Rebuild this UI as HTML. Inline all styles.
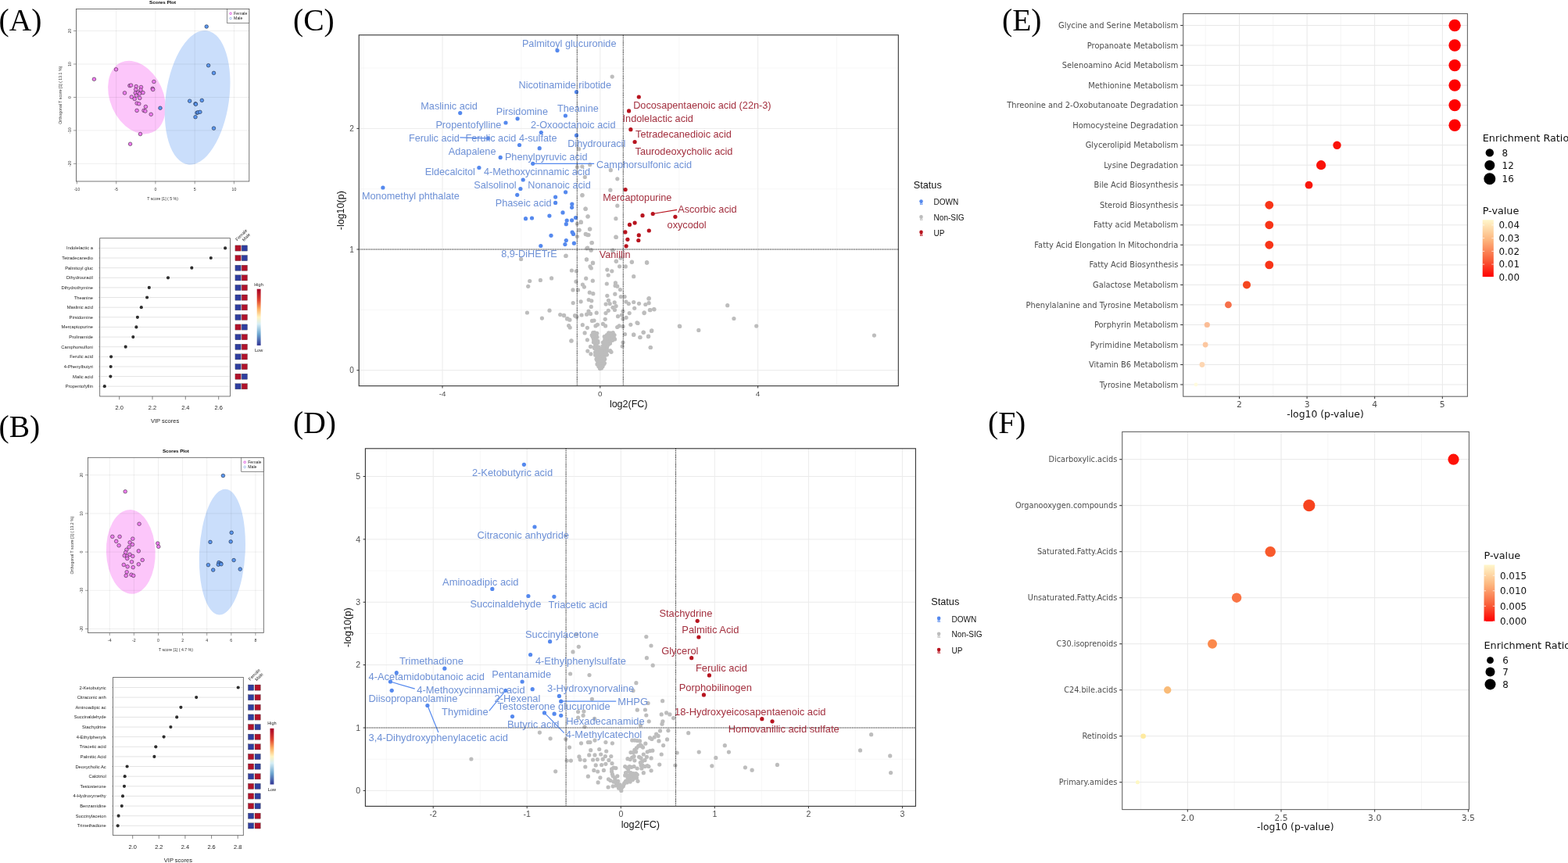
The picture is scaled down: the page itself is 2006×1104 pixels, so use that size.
<!DOCTYPE html>
<html><head><meta charset="utf-8"><title>Figure</title>
<style>
html,body{margin:0;padding:0;background:#fff;}
body{width:2006px;height:1104px;overflow:hidden;}
svg{display:block;}
</style></head><body>
<svg width="2006" height="1104" viewBox="0 0 2006 1104" font-family="'Liberation Sans', Arial, sans-serif">
<defs>
<linearGradient id="rdbu" x1="0" y1="0" x2="0" y2="1">
<stop offset="0" stop-color="#a50026"/><stop offset="0.2" stop-color="#e0452f"/><stop offset="0.35" stop-color="#fdae61"/>
<stop offset="0.5" stop-color="#fff4c0"/><stop offset="0.62" stop-color="#d6eef5"/><stop offset="0.8" stop-color="#6ea7d0"/>
<stop offset="1" stop-color="#313695"/></linearGradient>
<linearGradient id="ylred" x1="0" y1="0" x2="0" y2="1">
<stop offset="0" stop-color="#fff7cc"/><stop offset="0.35" stop-color="#fdb67e"/><stop offset="0.7" stop-color="#f9603a"/>
<stop offset="1" stop-color="#ff0000"/></linearGradient>
</defs>
<rect width="2006" height="1104" fill="#fff"/>
<text x="-1.5" y="39.3" font-size="39.5" font-family="'Liberation Serif', 'Times New Roman', serif">(A)</text>
<text x="-1.5" y="558.6" font-size="39.5" font-family="'Liberation Serif', 'Times New Roman', serif">(B)</text>
<text x="375" y="38.8" font-size="39.5" font-family="'Liberation Serif', 'Times New Roman', serif">(C)</text>
<text x="375" y="553.5" font-size="39.5" font-family="'Liberation Serif', 'Times New Roman', serif">(D)</text>
<text x="1282" y="39" font-size="39.5" font-family="'Liberation Serif', 'Times New Roman', serif">(E)</text>
<text x="1264" y="554" font-size="39.5" font-family="'Liberation Serif', 'Times New Roman', serif">(F)</text>
<text x="208.1" y="4.9" font-size="6.2" text-anchor="middle" font-weight="bold">Scores Plot</text>
<ellipse cx="175" cy="124.6" rx="34" ry="49" fill="#fcc6fa" transform="rotate(-24 175 124.6)"/>
<ellipse cx="252.6" cy="124.8" rx="40.5" ry="86.5" fill="#cadefb" transform="rotate(8 252.6 124.8)"/>
<line x1="98.4" y1="11.4" x2="98.4" y2="232" stroke="rgba(0,0,0,0.09)" stroke-width="0.7"/>
<line x1="148.7" y1="11.4" x2="148.7" y2="232" stroke="rgba(0,0,0,0.09)" stroke-width="0.7"/>
<line x1="198.9" y1="11.4" x2="198.9" y2="232" stroke="rgba(0,0,0,0.09)" stroke-width="0.7"/>
<line x1="249.2" y1="11.4" x2="249.2" y2="232" stroke="rgba(0,0,0,0.09)" stroke-width="0.7"/>
<line x1="299.4" y1="11.4" x2="299.4" y2="232" stroke="rgba(0,0,0,0.09)" stroke-width="0.7"/>
<line x1="97.4" y1="39.5" x2="318.8" y2="39.5" stroke="rgba(0,0,0,0.09)" stroke-width="0.7"/>
<line x1="97.4" y1="82" x2="318.8" y2="82" stroke="rgba(0,0,0,0.09)" stroke-width="0.7"/>
<line x1="97.4" y1="124.5" x2="318.8" y2="124.5" stroke="rgba(0,0,0,0.09)" stroke-width="0.7"/>
<line x1="97.4" y1="166.9" x2="318.8" y2="166.9" stroke="rgba(0,0,0,0.09)" stroke-width="0.7"/>
<line x1="97.4" y1="209.4" x2="318.8" y2="209.4" stroke="rgba(0,0,0,0.09)" stroke-width="0.7"/>
<circle cx="120.4" cy="101.3" r="2.3" fill="#ef7cf0" stroke="#3a2a3a" stroke-width="0.6"/>
<circle cx="148.5" cy="88.8" r="2.3" fill="#ef7cf0" stroke="#3a2a3a" stroke-width="0.6"/>
<circle cx="159.5" cy="118.9" r="2.3" fill="#ef7cf0" stroke="#3a2a3a" stroke-width="0.6"/>
<circle cx="165.9" cy="109.6" r="2.3" fill="#ef7cf0" stroke="#3a2a3a" stroke-width="0.6"/>
<circle cx="167.6" cy="109.1" r="2.3" fill="#ef7cf0" stroke="#3a2a3a" stroke-width="0.6"/>
<circle cx="174.2" cy="110.6" r="2.3" fill="#ef7cf0" stroke="#3a2a3a" stroke-width="0.6"/>
<circle cx="173.7" cy="114.5" r="2.3" fill="#ef7cf0" stroke="#3a2a3a" stroke-width="0.6"/>
<circle cx="180.5" cy="111.5" r="2.3" fill="#ef7cf0" stroke="#3a2a3a" stroke-width="0.6"/>
<circle cx="180" cy="115" r="2.3" fill="#ef7cf0" stroke="#3a2a3a" stroke-width="0.6"/>
<circle cx="173.2" cy="118.9" r="2.3" fill="#ef7cf0" stroke="#3a2a3a" stroke-width="0.6"/>
<circle cx="176.6" cy="118.4" r="2.3" fill="#ef7cf0" stroke="#3a2a3a" stroke-width="0.6"/>
<circle cx="178.6" cy="119.9" r="2.3" fill="#ef7cf0" stroke="#3a2a3a" stroke-width="0.6"/>
<circle cx="183" cy="118.6" r="2.3" fill="#ef7cf0" stroke="#3a2a3a" stroke-width="0.6"/>
<circle cx="168.3" cy="124" r="2.3" fill="#ef7cf0" stroke="#3a2a3a" stroke-width="0.6"/>
<circle cx="172.2" cy="126.5" r="2.3" fill="#ef7cf0" stroke="#3a2a3a" stroke-width="0.6"/>
<circle cx="174.4" cy="122.3" r="2.3" fill="#ef7cf0" stroke="#3a2a3a" stroke-width="0.6"/>
<circle cx="178.8" cy="125.5" r="2.3" fill="#ef7cf0" stroke="#3a2a3a" stroke-width="0.6"/>
<circle cx="175.1" cy="132.1" r="2.3" fill="#ef7cf0" stroke="#3a2a3a" stroke-width="0.6"/>
<circle cx="177.8" cy="132.8" r="2.3" fill="#ef7cf0" stroke="#3a2a3a" stroke-width="0.6"/>
<circle cx="186.4" cy="136.5" r="2.3" fill="#ef7cf0" stroke="#3a2a3a" stroke-width="0.6"/>
<circle cx="175.1" cy="141.4" r="2.3" fill="#ef7cf0" stroke="#3a2a3a" stroke-width="0.6"/>
<circle cx="184" cy="141.4" r="2.3" fill="#ef7cf0" stroke="#3a2a3a" stroke-width="0.6"/>
<circle cx="185.9" cy="142.1" r="2.3" fill="#ef7cf0" stroke="#3a2a3a" stroke-width="0.6"/>
<circle cx="193.2" cy="146.3" r="2.3" fill="#ef7cf0" stroke="#3a2a3a" stroke-width="0.6"/>
<circle cx="195.2" cy="113.3" r="2.3" fill="#ef7cf0" stroke="#3a2a3a" stroke-width="0.6"/>
<circle cx="195.7" cy="114.5" r="2.3" fill="#ef7cf0" stroke="#3a2a3a" stroke-width="0.6"/>
<circle cx="196.9" cy="104.5" r="2.3" fill="#ef7cf0" stroke="#3a2a3a" stroke-width="0.6"/>
<circle cx="179.5" cy="171.5" r="2.3" fill="#ef7cf0" stroke="#3a2a3a" stroke-width="0.6"/>
<circle cx="166.6" cy="184.2" r="2.3" fill="#ef7cf0" stroke="#3a2a3a" stroke-width="0.6"/>
<circle cx="264.2" cy="34" r="2.3" fill="#5b97f0" stroke="#1d2a40" stroke-width="0.6"/>
<circle cx="266.6" cy="83.7" r="2.3" fill="#5b97f0" stroke="#1d2a40" stroke-width="0.6"/>
<circle cx="273.5" cy="93.4" r="2.3" fill="#5b97f0" stroke="#1d2a40" stroke-width="0.6"/>
<circle cx="242.7" cy="129.2" r="2.3" fill="#5b97f0" stroke="#1d2a40" stroke-width="0.6"/>
<circle cx="250" cy="132.8" r="2.3" fill="#5b97f0" stroke="#1d2a40" stroke-width="0.6"/>
<circle cx="250.5" cy="133.3" r="2.3" fill="#5b97f0" stroke="#1d2a40" stroke-width="0.6"/>
<circle cx="258.3" cy="128.4" r="2.3" fill="#5b97f0" stroke="#1d2a40" stroke-width="0.6"/>
<circle cx="252" cy="144.3" r="2.3" fill="#5b97f0" stroke="#1d2a40" stroke-width="0.6"/>
<circle cx="253.2" cy="143.8" r="2.3" fill="#5b97f0" stroke="#1d2a40" stroke-width="0.6"/>
<circle cx="255.9" cy="143.3" r="2.3" fill="#5b97f0" stroke="#1d2a40" stroke-width="0.6"/>
<circle cx="250" cy="149.7" r="2.3" fill="#5b97f0" stroke="#1d2a40" stroke-width="0.6"/>
<circle cx="273.5" cy="164.1" r="2.3" fill="#5b97f0" stroke="#1d2a40" stroke-width="0.6"/>
<circle cx="205" cy="138.2" r="2.3" fill="#5b97f0" stroke="#1d2a40" stroke-width="0.6"/>
<rect x="97.4" y="11.4" width="221.4" height="220.6" fill="none" stroke="#555" stroke-width="0.8"/>
<line x1="98.4" y1="232" x2="98.4" y2="235.4" stroke="#555" stroke-width="0.6"/>
<text x="98.4" y="243.5" font-size="5.2" text-anchor="middle" fill="#333">-10</text>
<line x1="148.7" y1="232" x2="148.7" y2="235.4" stroke="#555" stroke-width="0.6"/>
<text x="148.7" y="243.5" font-size="5.2" text-anchor="middle" fill="#333">-5</text>
<line x1="198.9" y1="232" x2="198.9" y2="235.4" stroke="#555" stroke-width="0.6"/>
<text x="198.9" y="243.5" font-size="5.2" text-anchor="middle" fill="#333">0</text>
<line x1="249.2" y1="232" x2="249.2" y2="235.4" stroke="#555" stroke-width="0.6"/>
<text x="249.2" y="243.5" font-size="5.2" text-anchor="middle" fill="#333">5</text>
<line x1="299.4" y1="232" x2="299.4" y2="235.4" stroke="#555" stroke-width="0.6"/>
<text x="299.4" y="243.5" font-size="5.2" text-anchor="middle" fill="#333">10</text>
<line x1="94" y1="39.5" x2="97.4" y2="39.5" stroke="#555" stroke-width="0.6"/>
<text x="90.9" y="39.5" font-size="5.2" text-anchor="middle" fill="#333" transform="rotate(-90 90.9 39.5)">20</text>
<line x1="94" y1="82" x2="97.4" y2="82" stroke="#555" stroke-width="0.6"/>
<text x="90.9" y="82" font-size="5.2" text-anchor="middle" fill="#333" transform="rotate(-90 90.9 82)">10</text>
<line x1="94" y1="124.5" x2="97.4" y2="124.5" stroke="#555" stroke-width="0.6"/>
<text x="90.9" y="124.5" font-size="5.2" text-anchor="middle" fill="#333" transform="rotate(-90 90.9 124.5)">0</text>
<line x1="94" y1="166.9" x2="97.4" y2="166.9" stroke="#555" stroke-width="0.6"/>
<text x="90.9" y="166.9" font-size="5.2" text-anchor="middle" fill="#333" transform="rotate(-90 90.9 166.9)">-10</text>
<line x1="94" y1="209.4" x2="97.4" y2="209.4" stroke="#555" stroke-width="0.6"/>
<text x="90.9" y="209.4" font-size="5.2" text-anchor="middle" fill="#333" transform="rotate(-90 90.9 209.4)">-20</text>
<text x="208.1" y="255.5" font-size="5.2" text-anchor="middle" fill="#333">T score [1] ( 5 %)</text>
<text x="78.9" y="121.7" font-size="5.2" text-anchor="middle" fill="#333" transform="rotate(-90 78.9 121.7)">Orthogonal T score [1] ( 13.1 %)</text>
<rect x="290.6" y="11.4" width="28.2" height="18" fill="#fff" stroke="#444" stroke-width="0.6"/>
<circle cx="295.1" cy="17.3" r="1.3" fill="none" stroke="#e060e0" stroke-width="0.6"/>
<circle cx="295.1" cy="17.3" r="1.3" fill="none" stroke="#e060e0" stroke-width="0.6"/>
<circle cx="295.1" cy="23.5" r="1.3" fill="none" stroke="#6f9be0" stroke-width="0.6"/>
<text x="299.1" y="19.2" font-size="5.2" fill="#222">Female</text>
<text x="299.1" y="25.4" font-size="5.2" fill="#222">Male</text>
<text x="224.9" y="578.8" font-size="6.2" text-anchor="middle" font-weight="bold">Scores Plot</text>
<ellipse cx="167.3" cy="705.9" rx="31.4" ry="53.8" fill="#fcc6fa" transform="rotate(-2 167.3 705.9)"/>
<ellipse cx="284.4" cy="706.1" rx="29.3" ry="80.5" fill="#cadefb" transform="rotate(3 284.4 706.1)"/>
<line x1="140.3" y1="585.3" x2="140.3" y2="809.6" stroke="rgba(0,0,0,0.09)" stroke-width="0.7"/>
<line x1="171.4" y1="585.3" x2="171.4" y2="809.6" stroke="rgba(0,0,0,0.09)" stroke-width="0.7"/>
<line x1="202.5" y1="585.3" x2="202.5" y2="809.6" stroke="rgba(0,0,0,0.09)" stroke-width="0.7"/>
<line x1="233.6" y1="585.3" x2="233.6" y2="809.6" stroke="rgba(0,0,0,0.09)" stroke-width="0.7"/>
<line x1="264.7" y1="585.3" x2="264.7" y2="809.6" stroke="rgba(0,0,0,0.09)" stroke-width="0.7"/>
<line x1="295.8" y1="585.3" x2="295.8" y2="809.6" stroke="rgba(0,0,0,0.09)" stroke-width="0.7"/>
<line x1="326.9" y1="585.3" x2="326.9" y2="809.6" stroke="rgba(0,0,0,0.09)" stroke-width="0.7"/>
<line x1="112.5" y1="607.7" x2="337.3" y2="607.7" stroke="rgba(0,0,0,0.09)" stroke-width="0.7"/>
<line x1="112.5" y1="656.9" x2="337.3" y2="656.9" stroke="rgba(0,0,0,0.09)" stroke-width="0.7"/>
<line x1="112.5" y1="706.1" x2="337.3" y2="706.1" stroke="rgba(0,0,0,0.09)" stroke-width="0.7"/>
<line x1="112.5" y1="755.3" x2="337.3" y2="755.3" stroke="rgba(0,0,0,0.09)" stroke-width="0.7"/>
<line x1="112.5" y1="804.5" x2="337.3" y2="804.5" stroke="rgba(0,0,0,0.09)" stroke-width="0.7"/>
<circle cx="160.2" cy="628.8" r="2.3" fill="#ef7cf0" stroke="#3a2a3a" stroke-width="0.6"/>
<circle cx="178.1" cy="670.2" r="2.3" fill="#ef7cf0" stroke="#3a2a3a" stroke-width="0.6"/>
<circle cx="143.8" cy="686.5" r="2.3" fill="#ef7cf0" stroke="#3a2a3a" stroke-width="0.6"/>
<circle cx="153.1" cy="686.5" r="2.3" fill="#ef7cf0" stroke="#3a2a3a" stroke-width="0.6"/>
<circle cx="148.7" cy="692.4" r="2.3" fill="#ef7cf0" stroke="#3a2a3a" stroke-width="0.6"/>
<circle cx="152.1" cy="697.8" r="2.3" fill="#ef7cf0" stroke="#3a2a3a" stroke-width="0.6"/>
<circle cx="169.8" cy="689.2" r="2.3" fill="#ef7cf0" stroke="#3a2a3a" stroke-width="0.6"/>
<circle cx="166.1" cy="693.9" r="2.3" fill="#ef7cf0" stroke="#3a2a3a" stroke-width="0.6"/>
<circle cx="169.5" cy="696.6" r="2.3" fill="#ef7cf0" stroke="#3a2a3a" stroke-width="0.6"/>
<circle cx="165.1" cy="699.8" r="2.3" fill="#ef7cf0" stroke="#3a2a3a" stroke-width="0.6"/>
<circle cx="161.9" cy="703.2" r="2.3" fill="#ef7cf0" stroke="#3a2a3a" stroke-width="0.6"/>
<circle cx="160.7" cy="706.8" r="2.3" fill="#ef7cf0" stroke="#3a2a3a" stroke-width="0.6"/>
<circle cx="177.3" cy="704.9" r="2.3" fill="#ef7cf0" stroke="#3a2a3a" stroke-width="0.6"/>
<circle cx="201.8" cy="695.1" r="2.3" fill="#ef7cf0" stroke="#3a2a3a" stroke-width="0.6"/>
<circle cx="202.8" cy="699.3" r="2.3" fill="#ef7cf0" stroke="#3a2a3a" stroke-width="0.6"/>
<circle cx="159.2" cy="710.8" r="2.3" fill="#ef7cf0" stroke="#3a2a3a" stroke-width="0.6"/>
<circle cx="162.7" cy="711.7" r="2.3" fill="#ef7cf0" stroke="#3a2a3a" stroke-width="0.6"/>
<circle cx="166.1" cy="709.3" r="2.3" fill="#ef7cf0" stroke="#3a2a3a" stroke-width="0.6"/>
<circle cx="169.8" cy="711.5" r="2.3" fill="#ef7cf0" stroke="#3a2a3a" stroke-width="0.6"/>
<circle cx="162.7" cy="714.4" r="2.3" fill="#ef7cf0" stroke="#3a2a3a" stroke-width="0.6"/>
<circle cx="182.2" cy="716.4" r="2.3" fill="#ef7cf0" stroke="#3a2a3a" stroke-width="0.6"/>
<circle cx="168.5" cy="718.8" r="2.3" fill="#ef7cf0" stroke="#3a2a3a" stroke-width="0.6"/>
<circle cx="158.3" cy="722.5" r="2.3" fill="#ef7cf0" stroke="#3a2a3a" stroke-width="0.6"/>
<circle cx="163.1" cy="724.9" r="2.3" fill="#ef7cf0" stroke="#3a2a3a" stroke-width="0.6"/>
<circle cx="177.3" cy="721.8" r="2.3" fill="#ef7cf0" stroke="#3a2a3a" stroke-width="0.6"/>
<circle cx="170.2" cy="725.7" r="2.3" fill="#ef7cf0" stroke="#3a2a3a" stroke-width="0.6"/>
<circle cx="162.2" cy="731.8" r="2.3" fill="#ef7cf0" stroke="#3a2a3a" stroke-width="0.6"/>
<circle cx="161.2" cy="736.4" r="2.3" fill="#ef7cf0" stroke="#3a2a3a" stroke-width="0.6"/>
<circle cx="168" cy="735.2" r="2.3" fill="#ef7cf0" stroke="#3a2a3a" stroke-width="0.6"/>
<circle cx="170.7" cy="736.4" r="2.3" fill="#ef7cf0" stroke="#3a2a3a" stroke-width="0.6"/>
<circle cx="285.4" cy="608.5" r="2.3" fill="#5b97f0" stroke="#1d2a40" stroke-width="0.6"/>
<circle cx="296.2" cy="681.4" r="2.3" fill="#5b97f0" stroke="#1d2a40" stroke-width="0.6"/>
<circle cx="269" cy="693.4" r="2.3" fill="#5b97f0" stroke="#1d2a40" stroke-width="0.6"/>
<circle cx="295.2" cy="692.9" r="2.3" fill="#5b97f0" stroke="#1d2a40" stroke-width="0.6"/>
<circle cx="299.1" cy="716.6" r="2.3" fill="#5b97f0" stroke="#1d2a40" stroke-width="0.6"/>
<circle cx="266.4" cy="722.7" r="2.3" fill="#5b97f0" stroke="#1d2a40" stroke-width="0.6"/>
<circle cx="272.7" cy="729.1" r="2.3" fill="#5b97f0" stroke="#1d2a40" stroke-width="0.6"/>
<circle cx="280" cy="719.6" r="2.3" fill="#5b97f0" stroke="#1d2a40" stroke-width="0.6"/>
<circle cx="279.3" cy="722.3" r="2.3" fill="#5b97f0" stroke="#1d2a40" stroke-width="0.6"/>
<circle cx="282.5" cy="720.8" r="2.3" fill="#5b97f0" stroke="#1d2a40" stroke-width="0.6"/>
<circle cx="283" cy="721.8" r="2.3" fill="#5b97f0" stroke="#1d2a40" stroke-width="0.6"/>
<circle cx="307.2" cy="728.1" r="2.3" fill="#5b97f0" stroke="#1d2a40" stroke-width="0.6"/>
<rect x="112.5" y="585.3" width="224.8" height="224.3" fill="none" stroke="#555" stroke-width="0.8"/>
<line x1="140.3" y1="809.6" x2="140.3" y2="813" stroke="#555" stroke-width="0.6"/>
<text x="140.3" y="821.1" font-size="5.2" text-anchor="middle" fill="#333">-4</text>
<line x1="171.4" y1="809.6" x2="171.4" y2="813" stroke="#555" stroke-width="0.6"/>
<text x="171.4" y="821.1" font-size="5.2" text-anchor="middle" fill="#333">-2</text>
<line x1="202.5" y1="809.6" x2="202.5" y2="813" stroke="#555" stroke-width="0.6"/>
<text x="202.5" y="821.1" font-size="5.2" text-anchor="middle" fill="#333">0</text>
<line x1="233.6" y1="809.6" x2="233.6" y2="813" stroke="#555" stroke-width="0.6"/>
<text x="233.6" y="821.1" font-size="5.2" text-anchor="middle" fill="#333">2</text>
<line x1="264.7" y1="809.6" x2="264.7" y2="813" stroke="#555" stroke-width="0.6"/>
<text x="264.7" y="821.1" font-size="5.2" text-anchor="middle" fill="#333">4</text>
<line x1="295.8" y1="809.6" x2="295.8" y2="813" stroke="#555" stroke-width="0.6"/>
<text x="295.8" y="821.1" font-size="5.2" text-anchor="middle" fill="#333">6</text>
<line x1="326.9" y1="809.6" x2="326.9" y2="813" stroke="#555" stroke-width="0.6"/>
<text x="326.9" y="821.1" font-size="5.2" text-anchor="middle" fill="#333">8</text>
<line x1="109.1" y1="607.7" x2="112.5" y2="607.7" stroke="#555" stroke-width="0.6"/>
<text x="106" y="607.7" font-size="5.2" text-anchor="middle" fill="#333" transform="rotate(-90 106 607.7)">20</text>
<line x1="109.1" y1="656.9" x2="112.5" y2="656.9" stroke="#555" stroke-width="0.6"/>
<text x="106" y="656.9" font-size="5.2" text-anchor="middle" fill="#333" transform="rotate(-90 106 656.9)">10</text>
<line x1="109.1" y1="706.1" x2="112.5" y2="706.1" stroke="#555" stroke-width="0.6"/>
<text x="106" y="706.1" font-size="5.2" text-anchor="middle" fill="#333" transform="rotate(-90 106 706.1)">0</text>
<line x1="109.1" y1="755.3" x2="112.5" y2="755.3" stroke="#555" stroke-width="0.6"/>
<text x="106" y="755.3" font-size="5.2" text-anchor="middle" fill="#333" transform="rotate(-90 106 755.3)">-10</text>
<line x1="109.1" y1="804.5" x2="112.5" y2="804.5" stroke="#555" stroke-width="0.6"/>
<text x="106" y="804.5" font-size="5.2" text-anchor="middle" fill="#333" transform="rotate(-90 106 804.5)">-20</text>
<text x="224.9" y="833.1" font-size="5.2" text-anchor="middle" fill="#333">T score [1] ( 4.7 %)</text>
<text x="94" y="697.5" font-size="5.2" text-anchor="middle" fill="#333" transform="rotate(-90 94 697.5)">Orthogonal T score [1] ( 13.2 %)</text>
<rect x="308.7" y="585.3" width="28.6" height="18.1" fill="#fff" stroke="#444" stroke-width="0.6"/>
<circle cx="313.2" cy="591.3" r="1.3" fill="none" stroke="#e060e0" stroke-width="0.6"/>
<circle cx="313.2" cy="591.3" r="1.3" fill="none" stroke="#e060e0" stroke-width="0.6"/>
<circle cx="313.2" cy="597.4" r="1.3" fill="none" stroke="#6f9be0" stroke-width="0.6"/>
<text x="317.2" y="593.2" font-size="5.2" fill="#222">Female</text>
<text x="317.2" y="599.3" font-size="5.2" fill="#222">Male</text>
<line x1="128.7" y1="317.4" x2="293.5" y2="317.4" stroke="#e4e4e4" stroke-width="1"/>
<line x1="126.2" y1="317.4" x2="127.7" y2="317.4" stroke="#888" stroke-width="0.5"/>
<text x="118.9" y="319.4" font-size="5.8" text-anchor="end" fill="#1a1a1a">Indolelactic a</text>
<circle cx="288.1" cy="317.4" r="3.3" fill="#fff"/>
<circle cx="288.1" cy="317.4" r="2.1" fill="#2e2e2e"/>
<rect x="300.9" y="313.9" width="7.3" height="7.2" fill="#b0122a" stroke="#444" stroke-width="0.3"/>
<rect x="309.2" y="313.9" width="7.3" height="7.2" fill="#2f3e9e" stroke="#444" stroke-width="0.3"/>
<line x1="128.7" y1="330" x2="293.5" y2="330" stroke="#e4e4e4" stroke-width="1"/>
<line x1="126.2" y1="330" x2="127.7" y2="330" stroke="#888" stroke-width="0.5"/>
<text x="118.9" y="332" font-size="5.8" text-anchor="end" fill="#1a1a1a">Tetradecanedio</text>
<circle cx="269.8" cy="330" r="3.3" fill="#fff"/>
<circle cx="269.8" cy="330" r="2.1" fill="#2e2e2e"/>
<rect x="300.9" y="326.5" width="7.3" height="7.2" fill="#b0122a" stroke="#444" stroke-width="0.3"/>
<rect x="309.2" y="326.5" width="7.3" height="7.2" fill="#2f3e9e" stroke="#444" stroke-width="0.3"/>
<line x1="128.7" y1="342.7" x2="293.5" y2="342.7" stroke="#e4e4e4" stroke-width="1"/>
<line x1="126.2" y1="342.7" x2="127.7" y2="342.7" stroke="#888" stroke-width="0.5"/>
<text x="118.9" y="344.7" font-size="5.8" text-anchor="end" fill="#1a1a1a">Palmitoyl gluc</text>
<circle cx="245.3" cy="342.7" r="3.3" fill="#fff"/>
<circle cx="245.3" cy="342.7" r="2.1" fill="#2e2e2e"/>
<rect x="300.9" y="339.2" width="7.3" height="7.2" fill="#2f3e9e" stroke="#444" stroke-width="0.3"/>
<rect x="309.2" y="339.2" width="7.3" height="7.2" fill="#b0122a" stroke="#444" stroke-width="0.3"/>
<line x1="128.7" y1="355.3" x2="293.5" y2="355.3" stroke="#e4e4e4" stroke-width="1"/>
<line x1="126.2" y1="355.3" x2="127.7" y2="355.3" stroke="#888" stroke-width="0.5"/>
<text x="118.9" y="357.3" font-size="5.8" text-anchor="end" fill="#1a1a1a">Dihydrouracil</text>
<circle cx="215" cy="355.3" r="3.3" fill="#fff"/>
<circle cx="215" cy="355.3" r="2.1" fill="#2e2e2e"/>
<rect x="300.9" y="351.8" width="7.3" height="7.2" fill="#2f3e9e" stroke="#444" stroke-width="0.3"/>
<rect x="309.2" y="351.8" width="7.3" height="7.2" fill="#b0122a" stroke="#444" stroke-width="0.3"/>
<line x1="128.7" y1="367.9" x2="293.5" y2="367.9" stroke="#e4e4e4" stroke-width="1"/>
<line x1="126.2" y1="367.9" x2="127.7" y2="367.9" stroke="#888" stroke-width="0.5"/>
<text x="118.9" y="369.9" font-size="5.8" text-anchor="end" fill="#1a1a1a">Dihydrothymine</text>
<circle cx="190.8" cy="367.9" r="3.3" fill="#fff"/>
<circle cx="190.8" cy="367.9" r="2.1" fill="#2e2e2e"/>
<rect x="300.9" y="364.4" width="7.3" height="7.2" fill="#2f3e9e" stroke="#444" stroke-width="0.3"/>
<rect x="309.2" y="364.4" width="7.3" height="7.2" fill="#b0122a" stroke="#444" stroke-width="0.3"/>
<line x1="128.7" y1="380.5" x2="293.5" y2="380.5" stroke="#e4e4e4" stroke-width="1"/>
<line x1="126.2" y1="380.5" x2="127.7" y2="380.5" stroke="#888" stroke-width="0.5"/>
<text x="118.9" y="382.5" font-size="5.8" text-anchor="end" fill="#1a1a1a">Theanine</text>
<circle cx="188.1" cy="380.5" r="3.3" fill="#fff"/>
<circle cx="188.1" cy="380.5" r="2.1" fill="#2e2e2e"/>
<rect x="300.9" y="377" width="7.3" height="7.2" fill="#2f3e9e" stroke="#444" stroke-width="0.3"/>
<rect x="309.2" y="377" width="7.3" height="7.2" fill="#b0122a" stroke="#444" stroke-width="0.3"/>
<line x1="128.7" y1="393.2" x2="293.5" y2="393.2" stroke="#e4e4e4" stroke-width="1"/>
<line x1="126.2" y1="393.2" x2="127.7" y2="393.2" stroke="#888" stroke-width="0.5"/>
<text x="118.9" y="395.2" font-size="5.8" text-anchor="end" fill="#1a1a1a">Maslinic acid</text>
<circle cx="180.8" cy="393.2" r="3.3" fill="#fff"/>
<circle cx="180.8" cy="393.2" r="2.1" fill="#2e2e2e"/>
<rect x="300.9" y="389.7" width="7.3" height="7.2" fill="#2f3e9e" stroke="#444" stroke-width="0.3"/>
<rect x="309.2" y="389.7" width="7.3" height="7.2" fill="#b0122a" stroke="#444" stroke-width="0.3"/>
<line x1="128.7" y1="405.8" x2="293.5" y2="405.8" stroke="#e4e4e4" stroke-width="1"/>
<line x1="126.2" y1="405.8" x2="127.7" y2="405.8" stroke="#888" stroke-width="0.5"/>
<text x="118.9" y="407.8" font-size="5.8" text-anchor="end" fill="#1a1a1a">Pirsidomine</text>
<circle cx="175.9" cy="405.8" r="3.3" fill="#fff"/>
<circle cx="175.9" cy="405.8" r="2.1" fill="#2e2e2e"/>
<rect x="300.9" y="402.3" width="7.3" height="7.2" fill="#2f3e9e" stroke="#444" stroke-width="0.3"/>
<rect x="309.2" y="402.3" width="7.3" height="7.2" fill="#b0122a" stroke="#444" stroke-width="0.3"/>
<line x1="128.7" y1="418.4" x2="293.5" y2="418.4" stroke="#e4e4e4" stroke-width="1"/>
<line x1="126.2" y1="418.4" x2="127.7" y2="418.4" stroke="#888" stroke-width="0.5"/>
<text x="118.9" y="420.4" font-size="5.8" text-anchor="end" fill="#1a1a1a">Mercaptopurine</text>
<circle cx="174.4" cy="418.4" r="3.3" fill="#fff"/>
<circle cx="174.4" cy="418.4" r="2.1" fill="#2e2e2e"/>
<rect x="300.9" y="414.9" width="7.3" height="7.2" fill="#b0122a" stroke="#444" stroke-width="0.3"/>
<rect x="309.2" y="414.9" width="7.3" height="7.2" fill="#2f3e9e" stroke="#444" stroke-width="0.3"/>
<line x1="128.7" y1="431.1" x2="293.5" y2="431.1" stroke="#e4e4e4" stroke-width="1"/>
<line x1="126.2" y1="431.1" x2="127.7" y2="431.1" stroke="#888" stroke-width="0.5"/>
<text x="118.9" y="433.1" font-size="5.8" text-anchor="end" fill="#1a1a1a">Prolinamide</text>
<circle cx="170.3" cy="431.1" r="3.3" fill="#fff"/>
<circle cx="170.3" cy="431.1" r="2.1" fill="#2e2e2e"/>
<rect x="300.9" y="427.6" width="7.3" height="7.2" fill="#2f3e9e" stroke="#444" stroke-width="0.3"/>
<rect x="309.2" y="427.6" width="7.3" height="7.2" fill="#b0122a" stroke="#444" stroke-width="0.3"/>
<line x1="128.7" y1="443.7" x2="293.5" y2="443.7" stroke="#e4e4e4" stroke-width="1"/>
<line x1="126.2" y1="443.7" x2="127.7" y2="443.7" stroke="#888" stroke-width="0.5"/>
<text x="118.9" y="445.7" font-size="5.8" text-anchor="end" fill="#1a1a1a">Camphorsulfoni</text>
<circle cx="160.7" cy="443.7" r="3.3" fill="#fff"/>
<circle cx="160.7" cy="443.7" r="2.1" fill="#2e2e2e"/>
<rect x="300.9" y="440.2" width="7.3" height="7.2" fill="#2f3e9e" stroke="#444" stroke-width="0.3"/>
<rect x="309.2" y="440.2" width="7.3" height="7.2" fill="#b0122a" stroke="#444" stroke-width="0.3"/>
<line x1="128.7" y1="456.3" x2="293.5" y2="456.3" stroke="#e4e4e4" stroke-width="1"/>
<line x1="126.2" y1="456.3" x2="127.7" y2="456.3" stroke="#888" stroke-width="0.5"/>
<text x="118.9" y="458.3" font-size="5.8" text-anchor="end" fill="#1a1a1a">Ferulic acid</text>
<circle cx="142.1" cy="456.3" r="3.3" fill="#fff"/>
<circle cx="142.1" cy="456.3" r="2.1" fill="#2e2e2e"/>
<rect x="300.9" y="452.8" width="7.3" height="7.2" fill="#2f3e9e" stroke="#444" stroke-width="0.3"/>
<rect x="309.2" y="452.8" width="7.3" height="7.2" fill="#b0122a" stroke="#444" stroke-width="0.3"/>
<line x1="128.7" y1="469" x2="293.5" y2="469" stroke="#e4e4e4" stroke-width="1"/>
<line x1="126.2" y1="469" x2="127.7" y2="469" stroke="#888" stroke-width="0.5"/>
<text x="118.9" y="471" font-size="5.8" text-anchor="end" fill="#1a1a1a">4-Phenylbutyri</text>
<circle cx="141.7" cy="469" r="3.3" fill="#fff"/>
<circle cx="141.7" cy="469" r="2.1" fill="#2e2e2e"/>
<rect x="300.9" y="465.5" width="7.3" height="7.2" fill="#2f3e9e" stroke="#444" stroke-width="0.3"/>
<rect x="309.2" y="465.5" width="7.3" height="7.2" fill="#b0122a" stroke="#444" stroke-width="0.3"/>
<line x1="128.7" y1="481.6" x2="293.5" y2="481.6" stroke="#e4e4e4" stroke-width="1"/>
<line x1="126.2" y1="481.6" x2="127.7" y2="481.6" stroke="#888" stroke-width="0.5"/>
<text x="118.9" y="483.6" font-size="5.8" text-anchor="end" fill="#1a1a1a">Malic acid</text>
<circle cx="141.4" cy="481.6" r="3.3" fill="#fff"/>
<circle cx="141.4" cy="481.6" r="2.1" fill="#2e2e2e"/>
<rect x="300.9" y="478.1" width="7.3" height="7.2" fill="#b0122a" stroke="#444" stroke-width="0.3"/>
<rect x="309.2" y="478.1" width="7.3" height="7.2" fill="#2f3e9e" stroke="#444" stroke-width="0.3"/>
<line x1="128.7" y1="494.2" x2="293.5" y2="494.2" stroke="#e4e4e4" stroke-width="1"/>
<line x1="126.2" y1="494.2" x2="127.7" y2="494.2" stroke="#888" stroke-width="0.5"/>
<text x="118.9" y="496.2" font-size="5.8" text-anchor="end" fill="#1a1a1a">Propentofyllin</text>
<circle cx="133.8" cy="494.2" r="3.3" fill="#fff"/>
<circle cx="133.8" cy="494.2" r="2.1" fill="#2e2e2e"/>
<rect x="300.9" y="490.7" width="7.3" height="7.2" fill="#2f3e9e" stroke="#444" stroke-width="0.3"/>
<rect x="309.2" y="490.7" width="7.3" height="7.2" fill="#b0122a" stroke="#444" stroke-width="0.3"/>
<rect x="127.7" y="304.7" width="166.8" height="202.3" fill="none" stroke="#555" stroke-width="0.8"/>
<line x1="152.7" y1="507" x2="152.7" y2="511.2" stroke="#555" stroke-width="0.7"/>
<text x="152.7" y="524" font-size="7.4" text-anchor="middle" fill="#222">2.0</text>
<line x1="195" y1="507" x2="195" y2="511.2" stroke="#555" stroke-width="0.7"/>
<text x="195" y="524" font-size="7.4" text-anchor="middle" fill="#222">2.2</text>
<line x1="237.3" y1="507" x2="237.3" y2="511.2" stroke="#555" stroke-width="0.7"/>
<text x="237.3" y="524" font-size="7.4" text-anchor="middle" fill="#222">2.4</text>
<line x1="279.7" y1="507" x2="279.7" y2="511.2" stroke="#555" stroke-width="0.7"/>
<text x="279.7" y="524" font-size="7.4" text-anchor="middle" fill="#222">2.6</text>
<text x="211.1" y="541" font-size="7.5" text-anchor="middle" fill="#222">VIP scores</text>
<rect x="328.7" y="369.7" width="4.9" height="72.2" fill="url(#rdbu)"/>
<text x="331.1" y="365.6" font-size="5.6" text-anchor="middle" fill="#222">High</text>
<text x="331.1" y="450.3" font-size="5.6" text-anchor="middle" fill="#222">Low</text>
<text x="303.5" y="308.5" font-size="5.6" fill="#222" transform="rotate(-45 303.5 308.5)">Female</text>
<text x="312" y="309" font-size="5.6" fill="#222" transform="rotate(-45 312 309)">Male</text>
<line x1="145.6" y1="879.5" x2="310.3" y2="879.5" stroke="#e4e4e4" stroke-width="1"/>
<line x1="143.1" y1="879.5" x2="144.6" y2="879.5" stroke="#888" stroke-width="0.5"/>
<text x="135.7" y="881.5" font-size="5.8" text-anchor="end" fill="#1a1a1a">2-Ketobutyric</text>
<circle cx="304.7" cy="879.5" r="3.3" fill="#fff"/>
<circle cx="304.7" cy="879.5" r="2.1" fill="#2e2e2e"/>
<rect x="317.4" y="876" width="7.3" height="7.2" fill="#2f3e9e" stroke="#444" stroke-width="0.3"/>
<rect x="326" y="876" width="7.3" height="7.2" fill="#b0122a" stroke="#444" stroke-width="0.3"/>
<line x1="145.6" y1="892.1" x2="310.3" y2="892.1" stroke="#e4e4e4" stroke-width="1"/>
<line x1="143.1" y1="892.1" x2="144.6" y2="892.1" stroke="#888" stroke-width="0.5"/>
<text x="135.7" y="894.1" font-size="5.8" text-anchor="end" fill="#1a1a1a">Citraconic anh</text>
<circle cx="251.2" cy="892.1" r="3.3" fill="#fff"/>
<circle cx="251.2" cy="892.1" r="2.1" fill="#2e2e2e"/>
<rect x="317.4" y="888.6" width="7.3" height="7.2" fill="#2f3e9e" stroke="#444" stroke-width="0.3"/>
<rect x="326" y="888.6" width="7.3" height="7.2" fill="#b0122a" stroke="#444" stroke-width="0.3"/>
<line x1="145.6" y1="904.8" x2="310.3" y2="904.8" stroke="#e4e4e4" stroke-width="1"/>
<line x1="143.1" y1="904.8" x2="144.6" y2="904.8" stroke="#888" stroke-width="0.5"/>
<text x="135.7" y="906.8" font-size="5.8" text-anchor="end" fill="#1a1a1a">Aminoadipic ac</text>
<circle cx="231.4" cy="904.8" r="3.3" fill="#fff"/>
<circle cx="231.4" cy="904.8" r="2.1" fill="#2e2e2e"/>
<rect x="317.4" y="901.3" width="7.3" height="7.2" fill="#2f3e9e" stroke="#444" stroke-width="0.3"/>
<rect x="326" y="901.3" width="7.3" height="7.2" fill="#b0122a" stroke="#444" stroke-width="0.3"/>
<line x1="145.6" y1="917.4" x2="310.3" y2="917.4" stroke="#e4e4e4" stroke-width="1"/>
<line x1="143.1" y1="917.4" x2="144.6" y2="917.4" stroke="#888" stroke-width="0.5"/>
<text x="135.7" y="919.4" font-size="5.8" text-anchor="end" fill="#1a1a1a">Succinaldehyde</text>
<circle cx="226.2" cy="917.4" r="3.3" fill="#fff"/>
<circle cx="226.2" cy="917.4" r="2.1" fill="#2e2e2e"/>
<rect x="317.4" y="913.9" width="7.3" height="7.2" fill="#2f3e9e" stroke="#444" stroke-width="0.3"/>
<rect x="326" y="913.9" width="7.3" height="7.2" fill="#b0122a" stroke="#444" stroke-width="0.3"/>
<line x1="145.6" y1="930" x2="310.3" y2="930" stroke="#e4e4e4" stroke-width="1"/>
<line x1="143.1" y1="930" x2="144.6" y2="930" stroke="#888" stroke-width="0.5"/>
<text x="135.7" y="932" font-size="5.8" text-anchor="end" fill="#1a1a1a">Stachydrine</text>
<circle cx="218.4" cy="930" r="3.3" fill="#fff"/>
<circle cx="218.4" cy="930" r="2.1" fill="#2e2e2e"/>
<rect x="317.4" y="926.5" width="7.3" height="7.2" fill="#b0122a" stroke="#444" stroke-width="0.3"/>
<rect x="326" y="926.5" width="7.3" height="7.2" fill="#2f3e9e" stroke="#444" stroke-width="0.3"/>
<line x1="145.6" y1="942.6" x2="310.3" y2="942.6" stroke="#e4e4e4" stroke-width="1"/>
<line x1="143.1" y1="942.6" x2="144.6" y2="942.6" stroke="#888" stroke-width="0.5"/>
<text x="135.7" y="944.6" font-size="5.8" text-anchor="end" fill="#1a1a1a">4-Ethylphenyls</text>
<circle cx="209.6" cy="942.6" r="3.3" fill="#fff"/>
<circle cx="209.6" cy="942.6" r="2.1" fill="#2e2e2e"/>
<rect x="317.4" y="939.1" width="7.3" height="7.2" fill="#2f3e9e" stroke="#444" stroke-width="0.3"/>
<rect x="326" y="939.1" width="7.3" height="7.2" fill="#b0122a" stroke="#444" stroke-width="0.3"/>
<line x1="145.6" y1="955.3" x2="310.3" y2="955.3" stroke="#e4e4e4" stroke-width="1"/>
<line x1="143.1" y1="955.3" x2="144.6" y2="955.3" stroke="#888" stroke-width="0.5"/>
<text x="135.7" y="957.3" font-size="5.8" text-anchor="end" fill="#1a1a1a">Triacetic acid</text>
<circle cx="199.3" cy="955.3" r="3.3" fill="#fff"/>
<circle cx="199.3" cy="955.3" r="2.1" fill="#2e2e2e"/>
<rect x="317.4" y="951.8" width="7.3" height="7.2" fill="#2f3e9e" stroke="#444" stroke-width="0.3"/>
<rect x="326" y="951.8" width="7.3" height="7.2" fill="#b0122a" stroke="#444" stroke-width="0.3"/>
<line x1="145.6" y1="967.9" x2="310.3" y2="967.9" stroke="#e4e4e4" stroke-width="1"/>
<line x1="143.1" y1="967.9" x2="144.6" y2="967.9" stroke="#888" stroke-width="0.5"/>
<text x="135.7" y="969.9" font-size="5.8" text-anchor="end" fill="#1a1a1a">Palmitic Acid</text>
<circle cx="197.4" cy="967.9" r="3.3" fill="#fff"/>
<circle cx="197.4" cy="967.9" r="2.1" fill="#2e2e2e"/>
<rect x="317.4" y="964.4" width="7.3" height="7.2" fill="#b0122a" stroke="#444" stroke-width="0.3"/>
<rect x="326" y="964.4" width="7.3" height="7.2" fill="#2f3e9e" stroke="#444" stroke-width="0.3"/>
<line x1="145.6" y1="980.5" x2="310.3" y2="980.5" stroke="#e4e4e4" stroke-width="1"/>
<line x1="143.1" y1="980.5" x2="144.6" y2="980.5" stroke="#888" stroke-width="0.5"/>
<text x="135.7" y="982.5" font-size="5.8" text-anchor="end" fill="#1a1a1a">Deoxycholic Ac</text>
<circle cx="162.6" cy="980.5" r="3.3" fill="#fff"/>
<circle cx="162.6" cy="980.5" r="2.1" fill="#2e2e2e"/>
<rect x="317.4" y="977" width="7.3" height="7.2" fill="#b0122a" stroke="#444" stroke-width="0.3"/>
<rect x="326" y="977" width="7.3" height="7.2" fill="#2f3e9e" stroke="#444" stroke-width="0.3"/>
<line x1="145.6" y1="993.2" x2="310.3" y2="993.2" stroke="#e4e4e4" stroke-width="1"/>
<line x1="143.1" y1="993.2" x2="144.6" y2="993.2" stroke="#888" stroke-width="0.5"/>
<text x="135.7" y="995.2" font-size="5.8" text-anchor="end" fill="#1a1a1a">Calcitriol</text>
<circle cx="159.7" cy="993.2" r="3.3" fill="#fff"/>
<circle cx="159.7" cy="993.2" r="2.1" fill="#2e2e2e"/>
<rect x="317.4" y="989.7" width="7.3" height="7.2" fill="#2f3e9e" stroke="#444" stroke-width="0.3"/>
<rect x="326" y="989.7" width="7.3" height="7.2" fill="#b0122a" stroke="#444" stroke-width="0.3"/>
<line x1="145.6" y1="1005.8" x2="310.3" y2="1005.8" stroke="#e4e4e4" stroke-width="1"/>
<line x1="143.1" y1="1005.8" x2="144.6" y2="1005.8" stroke="#888" stroke-width="0.5"/>
<text x="135.7" y="1007.8" font-size="5.8" text-anchor="end" fill="#1a1a1a">Testosterone</text>
<circle cx="159" cy="1005.8" r="3.3" fill="#fff"/>
<circle cx="159" cy="1005.8" r="2.1" fill="#2e2e2e"/>
<rect x="317.4" y="1002.3" width="7.3" height="7.2" fill="#b0122a" stroke="#444" stroke-width="0.3"/>
<rect x="326" y="1002.3" width="7.3" height="7.2" fill="#2f3e9e" stroke="#444" stroke-width="0.3"/>
<line x1="145.6" y1="1018.4" x2="310.3" y2="1018.4" stroke="#e4e4e4" stroke-width="1"/>
<line x1="143.1" y1="1018.4" x2="144.6" y2="1018.4" stroke="#888" stroke-width="0.5"/>
<text x="135.7" y="1020.4" font-size="5.8" text-anchor="end" fill="#1a1a1a">4-Hydroxymethy</text>
<circle cx="157" cy="1018.4" r="3.3" fill="#fff"/>
<circle cx="157" cy="1018.4" r="2.1" fill="#2e2e2e"/>
<rect x="317.4" y="1014.9" width="7.3" height="7.2" fill="#b0122a" stroke="#444" stroke-width="0.3"/>
<rect x="326" y="1014.9" width="7.3" height="7.2" fill="#2f3e9e" stroke="#444" stroke-width="0.3"/>
<line x1="145.6" y1="1031.1" x2="310.3" y2="1031.1" stroke="#e4e4e4" stroke-width="1"/>
<line x1="143.1" y1="1031.1" x2="144.6" y2="1031.1" stroke="#888" stroke-width="0.5"/>
<text x="135.7" y="1033.1" font-size="5.8" text-anchor="end" fill="#1a1a1a">Benzamidine</text>
<circle cx="155.8" cy="1031.1" r="3.3" fill="#fff"/>
<circle cx="155.8" cy="1031.1" r="2.1" fill="#2e2e2e"/>
<rect x="317.4" y="1027.6" width="7.3" height="7.2" fill="#b0122a" stroke="#444" stroke-width="0.3"/>
<rect x="326" y="1027.6" width="7.3" height="7.2" fill="#2f3e9e" stroke="#444" stroke-width="0.3"/>
<line x1="145.6" y1="1043.7" x2="310.3" y2="1043.7" stroke="#e4e4e4" stroke-width="1"/>
<line x1="143.1" y1="1043.7" x2="144.6" y2="1043.7" stroke="#888" stroke-width="0.5"/>
<text x="135.7" y="1045.7" font-size="5.8" text-anchor="end" fill="#1a1a1a">Succinylaceton</text>
<circle cx="151.6" cy="1043.7" r="3.3" fill="#fff"/>
<circle cx="151.6" cy="1043.7" r="2.1" fill="#2e2e2e"/>
<rect x="317.4" y="1040.2" width="7.3" height="7.2" fill="#2f3e9e" stroke="#444" stroke-width="0.3"/>
<rect x="326" y="1040.2" width="7.3" height="7.2" fill="#b0122a" stroke="#444" stroke-width="0.3"/>
<line x1="145.6" y1="1056.3" x2="310.3" y2="1056.3" stroke="#e4e4e4" stroke-width="1"/>
<line x1="143.1" y1="1056.3" x2="144.6" y2="1056.3" stroke="#888" stroke-width="0.5"/>
<text x="135.7" y="1058.3" font-size="5.8" text-anchor="end" fill="#1a1a1a">Trimethadione</text>
<circle cx="150.7" cy="1056.3" r="3.3" fill="#fff"/>
<circle cx="150.7" cy="1056.3" r="2.1" fill="#2e2e2e"/>
<rect x="317.4" y="1052.8" width="7.3" height="7.2" fill="#2f3e9e" stroke="#444" stroke-width="0.3"/>
<rect x="326" y="1052.8" width="7.3" height="7.2" fill="#b0122a" stroke="#444" stroke-width="0.3"/>
<rect x="144.6" y="866.5" width="166.7" height="202.2" fill="none" stroke="#555" stroke-width="0.8"/>
<line x1="169.7" y1="1068.7" x2="169.7" y2="1072.9" stroke="#555" stroke-width="0.7"/>
<text x="169.7" y="1085.7" font-size="7.4" text-anchor="middle" fill="#222">2.0</text>
<line x1="203.3" y1="1068.7" x2="203.3" y2="1072.9" stroke="#555" stroke-width="0.7"/>
<text x="203.3" y="1085.7" font-size="7.4" text-anchor="middle" fill="#222">2.2</text>
<line x1="236.9" y1="1068.7" x2="236.9" y2="1072.9" stroke="#555" stroke-width="0.7"/>
<text x="236.9" y="1085.7" font-size="7.4" text-anchor="middle" fill="#222">2.4</text>
<line x1="270.6" y1="1068.7" x2="270.6" y2="1072.9" stroke="#555" stroke-width="0.7"/>
<text x="270.6" y="1085.7" font-size="7.4" text-anchor="middle" fill="#222">2.6</text>
<line x1="304.2" y1="1068.7" x2="304.2" y2="1072.9" stroke="#555" stroke-width="0.7"/>
<text x="304.2" y="1085.7" font-size="7.4" text-anchor="middle" fill="#222">2.8</text>
<text x="227.9" y="1102.7" font-size="7.5" text-anchor="middle" fill="#222">VIP scores</text>
<rect x="345.5" y="931.8" width="4.9" height="71.7" fill="url(#rdbu)"/>
<text x="347.9" y="927" font-size="5.6" text-anchor="middle" fill="#222">High</text>
<text x="347.9" y="1012" font-size="5.6" text-anchor="middle" fill="#222">Low</text>
<text x="320" y="871" font-size="5.6" fill="#222" transform="rotate(-45 320 871)">Female</text>
<text x="328.5" y="871.5" font-size="5.6" fill="#222" transform="rotate(-45 328.5 871.5)">Male</text>
<rect x="459.2" y="44.8" width="690.1" height="448.9" fill="#fff"/>
<line x1="465.1" y1="44.8" x2="465.1" y2="493.7" stroke="#f2f2f2" stroke-width="0.6"/>
<line x1="666.9" y1="44.8" x2="666.9" y2="493.7" stroke="#f2f2f2" stroke-width="0.6"/>
<line x1="868.7" y1="44.8" x2="868.7" y2="493.7" stroke="#f2f2f2" stroke-width="0.6"/>
<line x1="1070.5" y1="44.8" x2="1070.5" y2="493.7" stroke="#f2f2f2" stroke-width="0.6"/>
<line x1="459.2" y1="396.4" x2="1149.3" y2="396.4" stroke="#f2f2f2" stroke-width="0.6"/>
<line x1="459.2" y1="241.7" x2="1149.3" y2="241.7" stroke="#f2f2f2" stroke-width="0.6"/>
<line x1="459.2" y1="87.1" x2="1149.3" y2="87.1" stroke="#f2f2f2" stroke-width="0.6"/>
<line x1="566" y1="44.8" x2="566" y2="493.7" stroke="#ebebeb" stroke-width="1"/>
<line x1="767.8" y1="44.8" x2="767.8" y2="493.7" stroke="#ebebeb" stroke-width="1"/>
<line x1="969.6" y1="44.8" x2="969.6" y2="493.7" stroke="#ebebeb" stroke-width="1"/>
<line x1="459.2" y1="473.7" x2="1149.3" y2="473.7" stroke="#ebebeb" stroke-width="1"/>
<line x1="459.2" y1="319" x2="1149.3" y2="319" stroke="#ebebeb" stroke-width="1"/>
<line x1="459.2" y1="164.4" x2="1149.3" y2="164.4" stroke="#ebebeb" stroke-width="1"/>
<circle cx="783.2" cy="98.1" r="2.6" fill="#bdbdbd"/>
<circle cx="740.5" cy="190.7" r="2.6" fill="#bdbdbd"/>
<circle cx="738.4" cy="213.7" r="2.6" fill="#bdbdbd"/>
<circle cx="744.8" cy="213" r="2.6" fill="#bdbdbd"/>
<circle cx="754.7" cy="210.7" r="2.6" fill="#bdbdbd"/>
<circle cx="781.3" cy="217.7" r="2.6" fill="#bdbdbd"/>
<circle cx="748.3" cy="226.5" r="2.6" fill="#bdbdbd"/>
<circle cx="789.8" cy="228.8" r="2.6" fill="#bdbdbd"/>
<circle cx="780.8" cy="243.2" r="2.6" fill="#bdbdbd"/>
<circle cx="745" cy="249.5" r="2.6" fill="#bdbdbd"/>
<circle cx="789.8" cy="263.2" r="2.6" fill="#bdbdbd"/>
<circle cx="749" cy="267.2" r="2.6" fill="#bdbdbd"/>
<circle cx="752.1" cy="276.8" r="2.6" fill="#bdbdbd"/>
<circle cx="787.9" cy="279.7" r="2.6" fill="#bdbdbd"/>
<circle cx="738.4" cy="286.3" r="2.6" fill="#bdbdbd"/>
<circle cx="743.1" cy="283.9" r="2.6" fill="#bdbdbd"/>
<circle cx="754.4" cy="293.1" r="2.6" fill="#bdbdbd"/>
<circle cx="740.8" cy="294.3" r="2.6" fill="#bdbdbd"/>
<circle cx="749.7" cy="299.7" r="2.6" fill="#bdbdbd"/>
<circle cx="753" cy="300.6" r="2.6" fill="#bdbdbd"/>
<circle cx="738.4" cy="302.5" r="2.6" fill="#bdbdbd"/>
<circle cx="787.9" cy="303.2" r="2.6" fill="#bdbdbd"/>
<circle cx="757" cy="310.7" r="2.6" fill="#bdbdbd"/>
<circle cx="750.7" cy="317.8" r="2.6" fill="#bdbdbd"/>
<circle cx="756.1" cy="320.2" r="2.6" fill="#bdbdbd"/>
<circle cx="784.1" cy="320.2" r="2.6" fill="#bdbdbd"/>
<circle cx="724.1" cy="327.2" r="2.6" fill="#bdbdbd"/>
<circle cx="666.6" cy="331.5" r="2.6" fill="#bdbdbd"/>
<circle cx="750.4" cy="332" r="2.6" fill="#bdbdbd"/>
<circle cx="758.4" cy="336.2" r="2.6" fill="#bdbdbd"/>
<circle cx="788.3" cy="334.3" r="2.6" fill="#bdbdbd"/>
<circle cx="808.4" cy="335" r="2.6" fill="#bdbdbd"/>
<circle cx="827.7" cy="336" r="2.6" fill="#bdbdbd"/>
<circle cx="744.9" cy="249.9" r="2.6" fill="#bdbdbd"/>
<circle cx="749.2" cy="267.2" r="2.6" fill="#bdbdbd"/>
<circle cx="752" cy="277" r="2.6" fill="#bdbdbd"/>
<circle cx="743.4" cy="284.4" r="2.6" fill="#bdbdbd"/>
<circle cx="741.1" cy="294.3" r="2.6" fill="#bdbdbd"/>
<circle cx="754.8" cy="293" r="2.6" fill="#bdbdbd"/>
<circle cx="749.2" cy="299.4" r="2.6" fill="#bdbdbd"/>
<circle cx="751.7" cy="300.6" r="2.6" fill="#bdbdbd"/>
<circle cx="757.3" cy="310.5" r="2.6" fill="#bdbdbd"/>
<circle cx="751.7" cy="317.1" r="2.6" fill="#bdbdbd"/>
<circle cx="756.3" cy="319.6" r="2.6" fill="#bdbdbd"/>
<circle cx="723.8" cy="327.5" r="2.6" fill="#bdbdbd"/>
<circle cx="750.5" cy="331.8" r="2.6" fill="#bdbdbd"/>
<circle cx="758.6" cy="336.6" r="2.6" fill="#bdbdbd"/>
<circle cx="755" cy="340.9" r="2.6" fill="#bdbdbd"/>
<circle cx="756.3" cy="343" r="2.6" fill="#bdbdbd"/>
<circle cx="731.4" cy="346" r="2.6" fill="#bdbdbd"/>
<circle cx="737.3" cy="346.8" r="2.6" fill="#bdbdbd"/>
<circle cx="677.7" cy="359.5" r="2.6" fill="#bdbdbd"/>
<circle cx="675.7" cy="366.3" r="2.6" fill="#bdbdbd"/>
<circle cx="691.4" cy="358.4" r="2.6" fill="#bdbdbd"/>
<circle cx="705.6" cy="355.9" r="2.6" fill="#bdbdbd"/>
<circle cx="737" cy="360.2" r="2.6" fill="#bdbdbd"/>
<circle cx="749.7" cy="356.2" r="2.6" fill="#bdbdbd"/>
<circle cx="758.3" cy="359.2" r="2.6" fill="#bdbdbd"/>
<circle cx="745.4" cy="364" r="2.6" fill="#bdbdbd"/>
<circle cx="747.4" cy="367.1" r="2.6" fill="#bdbdbd"/>
<circle cx="733" cy="370.9" r="2.6" fill="#bdbdbd"/>
<circle cx="739.5" cy="370.9" r="2.6" fill="#bdbdbd"/>
<circle cx="754.3" cy="374.2" r="2.6" fill="#bdbdbd"/>
<circle cx="758.8" cy="375.7" r="2.6" fill="#bdbdbd"/>
<circle cx="753.2" cy="383.5" r="2.6" fill="#bdbdbd"/>
<circle cx="756.8" cy="384.8" r="2.6" fill="#bdbdbd"/>
<circle cx="733.2" cy="387.6" r="2.6" fill="#bdbdbd"/>
<circle cx="743.1" cy="385.8" r="2.6" fill="#bdbdbd"/>
<circle cx="674.4" cy="400" r="2.6" fill="#bdbdbd"/>
<circle cx="703" cy="397.2" r="2.6" fill="#bdbdbd"/>
<circle cx="693.4" cy="407.1" r="2.6" fill="#bdbdbd"/>
<circle cx="716.7" cy="402.6" r="2.6" fill="#bdbdbd"/>
<circle cx="721.3" cy="403.3" r="2.6" fill="#bdbdbd"/>
<circle cx="736.5" cy="404.6" r="2.6" fill="#bdbdbd"/>
<circle cx="725.6" cy="407.9" r="2.6" fill="#bdbdbd"/>
<circle cx="728.9" cy="409.2" r="2.6" fill="#bdbdbd"/>
<circle cx="727.6" cy="416.5" r="2.6" fill="#bdbdbd"/>
<circle cx="729.2" cy="419" r="2.6" fill="#bdbdbd"/>
<circle cx="730.9" cy="436" r="2.6" fill="#bdbdbd"/>
<circle cx="788.3" cy="303.4" r="2.6" fill="#bdbdbd"/>
<circle cx="783.7" cy="320.3" r="2.6" fill="#bdbdbd"/>
<circle cx="794" cy="330.1" r="2.6" fill="#bdbdbd"/>
<circle cx="788.3" cy="334.1" r="2.6" fill="#bdbdbd"/>
<circle cx="808.3" cy="335.3" r="2.6" fill="#bdbdbd"/>
<circle cx="827.5" cy="336.1" r="2.6" fill="#bdbdbd"/>
<circle cx="792.6" cy="340.8" r="2.6" fill="#bdbdbd"/>
<circle cx="800.3" cy="340.9" r="2.6" fill="#bdbdbd"/>
<circle cx="776.8" cy="345.1" r="2.6" fill="#bdbdbd"/>
<circle cx="782.8" cy="346.8" r="2.6" fill="#bdbdbd"/>
<circle cx="778.2" cy="352" r="2.6" fill="#bdbdbd"/>
<circle cx="810.7" cy="353.7" r="2.6" fill="#bdbdbd"/>
<circle cx="776.3" cy="363" r="2.6" fill="#bdbdbd"/>
<circle cx="787.4" cy="361.9" r="2.6" fill="#bdbdbd"/>
<circle cx="787.1" cy="365.4" r="2.6" fill="#bdbdbd"/>
<circle cx="789.7" cy="366.2" r="2.6" fill="#bdbdbd"/>
<circle cx="793.5" cy="370.5" r="2.6" fill="#bdbdbd"/>
<circle cx="786.8" cy="376.2" r="2.6" fill="#bdbdbd"/>
<circle cx="794.3" cy="379.5" r="2.6" fill="#bdbdbd"/>
<circle cx="799.1" cy="379.5" r="2.6" fill="#bdbdbd"/>
<circle cx="776.8" cy="378.3" r="2.6" fill="#bdbdbd"/>
<circle cx="778.5" cy="384.3" r="2.6" fill="#bdbdbd"/>
<circle cx="786.2" cy="386.9" r="2.6" fill="#bdbdbd"/>
<circle cx="775.1" cy="389.1" r="2.6" fill="#bdbdbd"/>
<circle cx="780.2" cy="388.6" r="2.6" fill="#bdbdbd"/>
<circle cx="800.9" cy="386" r="2.6" fill="#bdbdbd"/>
<circle cx="804.3" cy="388.6" r="2.6" fill="#bdbdbd"/>
<circle cx="810.7" cy="386.5" r="2.6" fill="#bdbdbd"/>
<circle cx="817.5" cy="388.3" r="2.6" fill="#bdbdbd"/>
<circle cx="825.8" cy="389.5" r="2.6" fill="#bdbdbd"/>
<circle cx="830.1" cy="387.7" r="2.6" fill="#bdbdbd"/>
<circle cx="830.3" cy="381.7" r="2.6" fill="#bdbdbd"/>
<circle cx="811.7" cy="394.3" r="2.6" fill="#bdbdbd"/>
<circle cx="831.8" cy="396.7" r="2.6" fill="#bdbdbd"/>
<circle cx="837" cy="395.8" r="2.6" fill="#bdbdbd"/>
<circle cx="721.7" cy="403.7" r="2.6" fill="#bdbdbd"/>
<circle cx="726" cy="407.5" r="2.6" fill="#bdbdbd"/>
<circle cx="735.5" cy="403.7" r="2.6" fill="#bdbdbd"/>
<circle cx="738.1" cy="405.3" r="2.6" fill="#bdbdbd"/>
<circle cx="824.1" cy="400.6" r="2.6" fill="#bdbdbd"/>
<circle cx="816" cy="413.5" r="2.6" fill="#bdbdbd"/>
<circle cx="869.7" cy="417.5" r="2.6" fill="#bdbdbd"/>
<circle cx="833.5" cy="423.4" r="2.6" fill="#bdbdbd"/>
<circle cx="823.2" cy="425.1" r="2.6" fill="#bdbdbd"/>
<circle cx="810.7" cy="428.2" r="2.6" fill="#bdbdbd"/>
<circle cx="829.6" cy="430.2" r="2.6" fill="#bdbdbd"/>
<circle cx="818.9" cy="431.6" r="2.6" fill="#bdbdbd"/>
<circle cx="731" cy="435.9" r="2.6" fill="#bdbdbd"/>
<circle cx="832.2" cy="444.5" r="2.6" fill="#bdbdbd"/>
<circle cx="930.7" cy="390.7" r="2.6" fill="#bdbdbd"/>
<circle cx="938.9" cy="407.5" r="2.6" fill="#bdbdbd"/>
<circle cx="869.3" cy="417.1" r="2.6" fill="#bdbdbd"/>
<circle cx="893.8" cy="422.4" r="2.6" fill="#bdbdbd"/>
<circle cx="967.7" cy="417.1" r="2.6" fill="#bdbdbd"/>
<circle cx="1118.4" cy="429.1" r="2.6" fill="#bdbdbd"/>
<circle cx="827.5" cy="335.5" r="2.6" fill="#bdbdbd"/>
<circle cx="829.9" cy="382" r="2.6" fill="#bdbdbd"/>
<circle cx="836.6" cy="395.5" r="2.6" fill="#bdbdbd"/>
<circle cx="831.4" cy="396.5" r="2.6" fill="#bdbdbd"/>
<circle cx="824.2" cy="399.8" r="2.6" fill="#bdbdbd"/>
<circle cx="815" cy="412.8" r="2.6" fill="#bdbdbd"/>
<circle cx="810.7" cy="428.2" r="2.6" fill="#bdbdbd"/>
<circle cx="823.2" cy="425.3" r="2.6" fill="#bdbdbd"/>
<circle cx="829.4" cy="430.6" r="2.6" fill="#bdbdbd"/>
<circle cx="833.8" cy="422.9" r="2.6" fill="#bdbdbd"/>
<circle cx="832.3" cy="444.5" r="2.6" fill="#bdbdbd"/>
<circle cx="818.9" cy="431.5" r="2.6" fill="#bdbdbd"/>
<circle cx="758.7" cy="425.6" r="2.6" fill="#bdbdbd"/>
<circle cx="760.5" cy="425.3" r="2.6" fill="#bdbdbd"/>
<circle cx="763.7" cy="426.4" r="2.6" fill="#bdbdbd"/>
<circle cx="778.7" cy="425.8" r="2.6" fill="#bdbdbd"/>
<circle cx="781.1" cy="426.1" r="2.6" fill="#bdbdbd"/>
<circle cx="784.2" cy="425.6" r="2.6" fill="#bdbdbd"/>
<circle cx="757.2" cy="428.8" r="2.6" fill="#bdbdbd"/>
<circle cx="759.2" cy="428.6" r="2.6" fill="#bdbdbd"/>
<circle cx="762.5" cy="429.1" r="2.6" fill="#bdbdbd"/>
<circle cx="776.3" cy="428.7" r="2.6" fill="#bdbdbd"/>
<circle cx="780.3" cy="428.6" r="2.6" fill="#bdbdbd"/>
<circle cx="783.4" cy="428.2" r="2.6" fill="#bdbdbd"/>
<circle cx="786" cy="428.6" r="2.6" fill="#bdbdbd"/>
<circle cx="758.3" cy="430.9" r="2.6" fill="#bdbdbd"/>
<circle cx="761.6" cy="431.7" r="2.6" fill="#bdbdbd"/>
<circle cx="763.9" cy="431.2" r="2.6" fill="#bdbdbd"/>
<circle cx="773.2" cy="430.6" r="2.6" fill="#bdbdbd"/>
<circle cx="775.4" cy="431.3" r="2.6" fill="#bdbdbd"/>
<circle cx="777.7" cy="430.9" r="2.6" fill="#bdbdbd"/>
<circle cx="780.8" cy="430.4" r="2.6" fill="#bdbdbd"/>
<circle cx="783.6" cy="431.4" r="2.6" fill="#bdbdbd"/>
<circle cx="759.4" cy="434.1" r="2.6" fill="#bdbdbd"/>
<circle cx="761.8" cy="433.4" r="2.6" fill="#bdbdbd"/>
<circle cx="773.9" cy="434.1" r="2.6" fill="#bdbdbd"/>
<circle cx="777.7" cy="432.9" r="2.6" fill="#bdbdbd"/>
<circle cx="779.4" cy="433.1" r="2.6" fill="#bdbdbd"/>
<circle cx="782.4" cy="433.5" r="2.6" fill="#bdbdbd"/>
<circle cx="785.9" cy="433.1" r="2.6" fill="#bdbdbd"/>
<circle cx="760.8" cy="436.1" r="2.6" fill="#bdbdbd"/>
<circle cx="764.7" cy="436.3" r="2.6" fill="#bdbdbd"/>
<circle cx="773.3" cy="436.5" r="2.6" fill="#bdbdbd"/>
<circle cx="776.2" cy="436.5" r="2.6" fill="#bdbdbd"/>
<circle cx="778.3" cy="435.9" r="2.6" fill="#bdbdbd"/>
<circle cx="780.7" cy="436.2" r="2.6" fill="#bdbdbd"/>
<circle cx="783.6" cy="435.3" r="2.6" fill="#bdbdbd"/>
<circle cx="759.4" cy="437.8" r="2.6" fill="#bdbdbd"/>
<circle cx="761.7" cy="438" r="2.6" fill="#bdbdbd"/>
<circle cx="764.8" cy="438.3" r="2.6" fill="#bdbdbd"/>
<circle cx="771.4" cy="438" r="2.6" fill="#bdbdbd"/>
<circle cx="773.7" cy="438.3" r="2.6" fill="#bdbdbd"/>
<circle cx="776.8" cy="437.9" r="2.6" fill="#bdbdbd"/>
<circle cx="780.5" cy="439.3" r="2.6" fill="#bdbdbd"/>
<circle cx="761.6" cy="440.5" r="2.6" fill="#bdbdbd"/>
<circle cx="763.2" cy="441.8" r="2.6" fill="#bdbdbd"/>
<circle cx="772.7" cy="441.8" r="2.6" fill="#bdbdbd"/>
<circle cx="776.1" cy="441.4" r="2.6" fill="#bdbdbd"/>
<circle cx="778.1" cy="440.9" r="2.6" fill="#bdbdbd"/>
<circle cx="760.1" cy="444.4" r="2.6" fill="#bdbdbd"/>
<circle cx="763.1" cy="444.1" r="2.6" fill="#bdbdbd"/>
<circle cx="765.9" cy="444" r="2.6" fill="#bdbdbd"/>
<circle cx="771" cy="442.8" r="2.6" fill="#bdbdbd"/>
<circle cx="773.4" cy="443.2" r="2.6" fill="#bdbdbd"/>
<circle cx="776.6" cy="443.9" r="2.6" fill="#bdbdbd"/>
<circle cx="760.6" cy="445.6" r="2.6" fill="#bdbdbd"/>
<circle cx="764.2" cy="446.8" r="2.6" fill="#bdbdbd"/>
<circle cx="767.4" cy="446.1" r="2.6" fill="#bdbdbd"/>
<circle cx="770" cy="446.6" r="2.6" fill="#bdbdbd"/>
<circle cx="772" cy="446.4" r="2.6" fill="#bdbdbd"/>
<circle cx="776.2" cy="446.6" r="2.6" fill="#bdbdbd"/>
<circle cx="762.9" cy="448.1" r="2.6" fill="#bdbdbd"/>
<circle cx="764.8" cy="448.1" r="2.6" fill="#bdbdbd"/>
<circle cx="769" cy="449.1" r="2.6" fill="#bdbdbd"/>
<circle cx="770.6" cy="449.2" r="2.6" fill="#bdbdbd"/>
<circle cx="774.9" cy="448.9" r="2.6" fill="#bdbdbd"/>
<circle cx="776.8" cy="448.7" r="2.6" fill="#bdbdbd"/>
<circle cx="761.6" cy="450.7" r="2.6" fill="#bdbdbd"/>
<circle cx="763.6" cy="450.8" r="2.6" fill="#bdbdbd"/>
<circle cx="766.4" cy="451.3" r="2.6" fill="#bdbdbd"/>
<circle cx="769.4" cy="451" r="2.6" fill="#bdbdbd"/>
<circle cx="772.1" cy="451.8" r="2.6" fill="#bdbdbd"/>
<circle cx="775.3" cy="451.1" r="2.6" fill="#bdbdbd"/>
<circle cx="761.7" cy="454.2" r="2.6" fill="#bdbdbd"/>
<circle cx="764.9" cy="453.6" r="2.6" fill="#bdbdbd"/>
<circle cx="768.7" cy="453.8" r="2.6" fill="#bdbdbd"/>
<circle cx="770.9" cy="453.7" r="2.6" fill="#bdbdbd"/>
<circle cx="774.2" cy="454.1" r="2.6" fill="#bdbdbd"/>
<circle cx="776.4" cy="453.8" r="2.6" fill="#bdbdbd"/>
<circle cx="764" cy="456.5" r="2.6" fill="#bdbdbd"/>
<circle cx="766.8" cy="456.3" r="2.6" fill="#bdbdbd"/>
<circle cx="769.7" cy="456.9" r="2.6" fill="#bdbdbd"/>
<circle cx="773" cy="456.8" r="2.6" fill="#bdbdbd"/>
<circle cx="763" cy="459.4" r="2.6" fill="#bdbdbd"/>
<circle cx="764.9" cy="459.1" r="2.6" fill="#bdbdbd"/>
<circle cx="768.6" cy="458.2" r="2.6" fill="#bdbdbd"/>
<circle cx="771.8" cy="459.5" r="2.6" fill="#bdbdbd"/>
<circle cx="773.7" cy="459.5" r="2.6" fill="#bdbdbd"/>
<circle cx="764" cy="461.2" r="2.6" fill="#bdbdbd"/>
<circle cx="766.1" cy="461" r="2.6" fill="#bdbdbd"/>
<circle cx="770" cy="461.3" r="2.6" fill="#bdbdbd"/>
<circle cx="772" cy="462" r="2.6" fill="#bdbdbd"/>
<circle cx="765.5" cy="464.1" r="2.6" fill="#bdbdbd"/>
<circle cx="767.7" cy="463.1" r="2.6" fill="#bdbdbd"/>
<circle cx="771.5" cy="463.7" r="2.6" fill="#bdbdbd"/>
<circle cx="773.4" cy="464.5" r="2.6" fill="#bdbdbd"/>
<circle cx="764" cy="465.9" r="2.6" fill="#bdbdbd"/>
<circle cx="766.2" cy="465.8" r="2.6" fill="#bdbdbd"/>
<circle cx="769" cy="465.8" r="2.6" fill="#bdbdbd"/>
<circle cx="772.4" cy="466" r="2.6" fill="#bdbdbd"/>
<circle cx="765.9" cy="468.7" r="2.6" fill="#bdbdbd"/>
<circle cx="768.3" cy="469.4" r="2.6" fill="#bdbdbd"/>
<circle cx="771" cy="468.8" r="2.6" fill="#bdbdbd"/>
<circle cx="767.5" cy="471.6" r="2.6" fill="#bdbdbd"/>
<circle cx="769.4" cy="470.9" r="2.6" fill="#bdbdbd"/>
<circle cx="756.3" cy="392.4" r="2.6" fill="#bdbdbd"/>
<circle cx="753" cy="398.1" r="2.6" fill="#bdbdbd"/>
<circle cx="755.5" cy="401.4" r="2.6" fill="#bdbdbd"/>
<circle cx="750.6" cy="402.2" r="2.6" fill="#bdbdbd"/>
<circle cx="744.1" cy="403" r="2.6" fill="#bdbdbd"/>
<circle cx="763.2" cy="400.2" r="2.6" fill="#bdbdbd"/>
<circle cx="775" cy="400.6" r="2.6" fill="#bdbdbd"/>
<circle cx="778.3" cy="397.3" r="2.6" fill="#bdbdbd"/>
<circle cx="784" cy="393.3" r="2.6" fill="#bdbdbd"/>
<circle cx="786.5" cy="396.5" r="2.6" fill="#bdbdbd"/>
<circle cx="788.1" cy="391.6" r="2.6" fill="#bdbdbd"/>
<circle cx="797" cy="398.1" r="2.6" fill="#bdbdbd"/>
<circle cx="805.2" cy="400.6" r="2.6" fill="#bdbdbd"/>
<circle cx="790.5" cy="404.7" r="2.6" fill="#bdbdbd"/>
<circle cx="795.4" cy="403" r="2.6" fill="#bdbdbd"/>
<circle cx="797" cy="407.9" r="2.6" fill="#bdbdbd"/>
<circle cx="801.1" cy="406.3" r="2.6" fill="#bdbdbd"/>
<circle cx="806.8" cy="415.3" r="2.6" fill="#bdbdbd"/>
<circle cx="792.2" cy="416.9" r="2.6" fill="#bdbdbd"/>
<circle cx="789.7" cy="418.5" r="2.6" fill="#bdbdbd"/>
<circle cx="797" cy="417.7" r="2.6" fill="#bdbdbd"/>
<circle cx="799.5" cy="427.5" r="2.6" fill="#bdbdbd"/>
<circle cx="797" cy="438.1" r="2.6" fill="#bdbdbd"/>
<circle cx="796.2" cy="443" r="2.6" fill="#bdbdbd"/>
<circle cx="774.2" cy="408.3" r="2.6" fill="#bdbdbd"/>
<circle cx="757.5" cy="410.4" r="2.6" fill="#bdbdbd"/>
<circle cx="760" cy="410" r="2.6" fill="#bdbdbd"/>
<circle cx="764.4" cy="415.3" r="2.6" fill="#bdbdbd"/>
<circle cx="762" cy="416.9" r="2.6" fill="#bdbdbd"/>
<circle cx="771.4" cy="414.4" r="2.6" fill="#bdbdbd"/>
<circle cx="774.6" cy="416.9" r="2.6" fill="#bdbdbd"/>
<circle cx="745.3" cy="415.7" r="2.6" fill="#bdbdbd"/>
<circle cx="751.4" cy="419.3" r="2.6" fill="#bdbdbd"/>
<circle cx="748.1" cy="425.9" r="2.6" fill="#bdbdbd"/>
<circle cx="751.4" cy="434.8" r="2.6" fill="#bdbdbd"/>
<circle cx="755.5" cy="443.4" r="2.6" fill="#bdbdbd"/>
<circle cx="751.8" cy="449.1" r="2.6" fill="#bdbdbd"/>
<circle cx="755.9" cy="452.8" r="2.6" fill="#bdbdbd"/>
<circle cx="786.5" cy="434" r="2.6" fill="#bdbdbd"/>
<circle cx="780.7" cy="448.7" r="2.6" fill="#bdbdbd"/>
<circle cx="782" cy="450.3" r="2.6" fill="#bdbdbd"/>
<circle cx="713" cy="64.6" r="2.6" fill="#5589ee"/>
<circle cx="737.5" cy="117.7" r="2.6" fill="#5589ee"/>
<circle cx="588.7" cy="144.6" r="2.6" fill="#5589ee"/>
<circle cx="662.1" cy="151.8" r="2.6" fill="#5589ee"/>
<circle cx="647" cy="157" r="2.6" fill="#5589ee"/>
<circle cx="723.4" cy="148" r="2.6" fill="#5589ee"/>
<circle cx="692.3" cy="169.5" r="2.6" fill="#5589ee"/>
<circle cx="737.5" cy="173.2" r="2.6" fill="#5589ee"/>
<circle cx="624.4" cy="176.9" r="2.6" fill="#5589ee"/>
<circle cx="664.5" cy="185.5" r="2.6" fill="#5589ee"/>
<circle cx="690.2" cy="189.7" r="2.6" fill="#5589ee"/>
<circle cx="640.2" cy="201.4" r="2.6" fill="#5589ee"/>
<circle cx="681.7" cy="209.3" r="2.6" fill="#5589ee"/>
<circle cx="612.9" cy="214.5" r="2.6" fill="#5589ee"/>
<circle cx="669.2" cy="230" r="2.6" fill="#5589ee"/>
<circle cx="665.9" cy="241.5" r="2.6" fill="#5589ee"/>
<circle cx="723.6" cy="245.8" r="2.6" fill="#5589ee"/>
<circle cx="489.9" cy="240" r="2.6" fill="#5589ee"/>
<circle cx="661.7" cy="249.3" r="2.6" fill="#5589ee"/>
<circle cx="710.6" cy="252.1" r="2.6" fill="#5589ee"/>
<circle cx="710.6" cy="259.4" r="2.6" fill="#5589ee"/>
<circle cx="731.8" cy="261.1" r="2.6" fill="#5589ee"/>
<circle cx="731.6" cy="265.3" r="2.6" fill="#5589ee"/>
<circle cx="720" cy="271.9" r="2.6" fill="#5589ee"/>
<circle cx="702.9" cy="276.1" r="2.6" fill="#5589ee"/>
<circle cx="672.5" cy="279.7" r="2.6" fill="#5589ee"/>
<circle cx="680.5" cy="279" r="2.6" fill="#5589ee"/>
<circle cx="725.2" cy="282" r="2.6" fill="#5589ee"/>
<circle cx="731.6" cy="281.8" r="2.6" fill="#5589ee"/>
<circle cx="736.5" cy="278.5" r="2.6" fill="#5589ee"/>
<circle cx="724.3" cy="286.7" r="2.6" fill="#5589ee"/>
<circle cx="732.1" cy="297.1" r="2.6" fill="#5589ee"/>
<circle cx="733.5" cy="299.4" r="2.6" fill="#5589ee"/>
<circle cx="705" cy="301.3" r="2.6" fill="#5589ee"/>
<circle cx="724.3" cy="307.5" r="2.6" fill="#5589ee"/>
<circle cx="722.9" cy="312.6" r="2.6" fill="#5589ee"/>
<circle cx="734.4" cy="311.2" r="2.6" fill="#5589ee"/>
<circle cx="691.8" cy="314.5" r="2.6" fill="#5589ee"/>
<circle cx="817.3" cy="124" r="2.6" fill="#b8141f"/>
<circle cx="804.6" cy="141.9" r="2.6" fill="#b8141f"/>
<circle cx="806.9" cy="165.7" r="2.6" fill="#b8141f"/>
<circle cx="812.1" cy="181.5" r="2.6" fill="#b8141f"/>
<circle cx="800.1" cy="242.5" r="2.6" fill="#b8141f"/>
<circle cx="822" cy="275.7" r="2.6" fill="#b8141f"/>
<circle cx="835.2" cy="273.5" r="2.6" fill="#b8141f"/>
<circle cx="863.9" cy="277.3" r="2.6" fill="#b8141f"/>
<circle cx="805.5" cy="287.4" r="2.6" fill="#b8141f"/>
<circle cx="812.1" cy="285.1" r="2.6" fill="#b8141f"/>
<circle cx="830.3" cy="295" r="2.6" fill="#b8141f"/>
<circle cx="799.9" cy="296.9" r="2.6" fill="#b8141f"/>
<circle cx="817.3" cy="300.9" r="2.6" fill="#b8141f"/>
<circle cx="802.9" cy="306.3" r="2.6" fill="#b8141f"/>
<circle cx="816.8" cy="307.5" r="2.6" fill="#b8141f"/>
<circle cx="801.1" cy="314.8" r="2.6" fill="#b8141f"/>
<line x1="588.4" y1="175.9" x2="624.4" y2="176.9" stroke="#5589ee" stroke-width="1.2"/>
<line x1="681.7" y1="209.4" x2="760.2" y2="209.4" stroke="#5589ee" stroke-width="1.2"/>
<line x1="835.2" y1="273.5" x2="866" y2="268.4" stroke="#b8141f" stroke-width="1.2"/>
<line x1="738.3" y1="44.8" x2="738.3" y2="493.7" stroke="#111" stroke-width="1.1" stroke-dasharray="1.1 1.1"/>
<line x1="797.3" y1="44.8" x2="797.3" y2="493.7" stroke="#111" stroke-width="1.1" stroke-dasharray="1.1 1.1"/>
<line x1="459.2" y1="319" x2="1149.3" y2="319" stroke="#111" stroke-width="1.1" stroke-dasharray="1.1 1.1"/>
<text x="667.9" y="59.9" font-size="12.7" fill="#6e91d6">Palmitoyl glucuronide</text>
<text x="663.5" y="112.7" font-size="12.7" fill="#6e91d6">Nicotinamide ribotide</text>
<text x="538.3" y="139.9" font-size="12.7" fill="#6e91d6">Maslinic acid</text>
<text x="634.7" y="146.5" font-size="12.7" fill="#6e91d6">Pirsidomine</text>
<text x="712.9" y="143.3" font-size="12.7" fill="#6e91d6">Theanine</text>
<text x="557.4" y="163.8" font-size="12.7" fill="#6e91d6">Propentofylline</text>
<text x="678.9" y="163.8" font-size="12.7" fill="#6e91d6">2-Oxooctanoic acid</text>
<text x="522.9" y="180.5" font-size="12.7" fill="#6e91d6">Ferulic acid</text>
<text x="595.5" y="180.5" font-size="12.7" fill="#6e91d6">Ferulic acid 4-sulfate</text>
<text x="726.2" y="187.6" font-size="12.7" fill="#6e91d6">Dihydrouracil</text>
<text x="573.8" y="197.9" font-size="12.7" fill="#6e91d6">Adapalene</text>
<text x="645.9" y="204.5" font-size="12.7" fill="#6e91d6">Phenylpyruvic acid</text>
<text x="763.1" y="214.5" font-size="12.7" fill="#6e91d6">Camphorsulfonic acid</text>
<text x="543.7" y="224" font-size="12.7" fill="#6e91d6">Eldecalcitol</text>
<text x="619" y="224" font-size="12.7" fill="#6e91d6">4-Methoxycinnamic acid</text>
<text x="606.3" y="241.1" font-size="12.7" fill="#6e91d6">Salsolinol</text>
<text x="675.3" y="241.1" font-size="12.7" fill="#6e91d6">Nonanoic acid</text>
<text x="463" y="254.6" font-size="12.7" fill="#6e91d6">Monomethyl phthalate</text>
<text x="633.7" y="263.9" font-size="12.7" fill="#6e91d6">Phaseic acid</text>
<text x="641.2" y="329" font-size="12.7" fill="#6e91d6">8,9-DiHETrE</text>
<text x="810.2" y="138.8" font-size="12.7" fill="#a3303f">Docosapentaenoic acid (22n-3)</text>
<text x="796.6" y="155.9" font-size="12.7" fill="#a3303f">Indolelactic acid</text>
<text x="813.1" y="176.4" font-size="12.7" fill="#a3303f">Tetradecanedioic acid</text>
<text x="812.6" y="197.6" font-size="12.7" fill="#a3303f">Taurodeoxycholic acid</text>
<text x="771.2" y="257.2" font-size="12.7" fill="#a3303f">Mercaptopurine</text>
<text x="867.2" y="272.3" font-size="12.7" fill="#a3303f">Ascorbic acid</text>
<text x="853.6" y="291.8" font-size="12.7" fill="#a3303f">oxycodol</text>
<text x="766.7" y="329.5" font-size="12.7" fill="#a3303f">Vanillin</text>
<rect x="459.2" y="44.8" width="690.1" height="448.9" fill="none" stroke="#333" stroke-width="1.1"/>
<line x1="566" y1="493.7" x2="566" y2="496.5" stroke="#333" stroke-width="1"/>
<text x="566" y="507" font-size="9.8" text-anchor="middle" fill="#4d4d4d">-4</text>
<line x1="767.8" y1="493.7" x2="767.8" y2="496.5" stroke="#333" stroke-width="1"/>
<text x="767.8" y="507" font-size="9.8" text-anchor="middle" fill="#4d4d4d">0</text>
<line x1="969.6" y1="493.7" x2="969.6" y2="496.5" stroke="#333" stroke-width="1"/>
<text x="969.6" y="507" font-size="9.8" text-anchor="middle" fill="#4d4d4d">4</text>
<line x1="456.4" y1="473.7" x2="459.2" y2="473.7" stroke="#333" stroke-width="1"/>
<text x="452.7" y="477.3" font-size="10" text-anchor="end" fill="#4d4d4d">0</text>
<line x1="456.4" y1="319" x2="459.2" y2="319" stroke="#333" stroke-width="1"/>
<text x="452.7" y="322.6" font-size="10" text-anchor="end" fill="#4d4d4d">1</text>
<line x1="456.4" y1="164.4" x2="459.2" y2="164.4" stroke="#333" stroke-width="1"/>
<text x="452.7" y="168" font-size="10" text-anchor="end" fill="#4d4d4d">2</text>
<text x="804.2" y="521" font-size="12.5" text-anchor="middle" fill="#111">log2(FC)</text>
<text x="439.9" y="269.2" font-size="12.5" text-anchor="middle" fill="#111" transform="rotate(-90 439.9 269.2)">-log10(p)</text>
<text x="1168.8" y="240.8" font-size="12.7" fill="#111">Status</text>
<circle cx="1178.5" cy="257.5" r="2.3" fill="#5589ee"/>
<text x="1178.5" y="262.3" font-size="6.5" text-anchor="middle" fill="#5589ee" font-weight="bold">a</text>
<text x="1194.6" y="262.1" font-size="10" fill="#111">DOWN</text>
<circle cx="1178.5" cy="277.4" r="2.3" fill="#bdbdbd"/>
<text x="1178.5" y="282.2" font-size="6.5" text-anchor="middle" fill="#bdbdbd" font-weight="bold">a</text>
<text x="1194.6" y="282" font-size="10" fill="#111">Non-SIG</text>
<circle cx="1178.5" cy="296.9" r="2.3" fill="#b8141f"/>
<text x="1178.5" y="301.7" font-size="6.5" text-anchor="middle" fill="#b8141f" font-weight="bold">a</text>
<text x="1194.6" y="301.5" font-size="10" fill="#111">UP</text>
<rect x="467.4" y="573.8" width="704" height="457.6" fill="#fff"/>
<line x1="494.2" y1="573.8" x2="494.2" y2="1031.4" stroke="#f2f2f2" stroke-width="0.6"/>
<line x1="614.2" y1="573.8" x2="614.2" y2="1031.4" stroke="#f2f2f2" stroke-width="0.6"/>
<line x1="734.3" y1="573.8" x2="734.3" y2="1031.4" stroke="#f2f2f2" stroke-width="0.6"/>
<line x1="854.3" y1="573.8" x2="854.3" y2="1031.4" stroke="#f2f2f2" stroke-width="0.6"/>
<line x1="974.4" y1="573.8" x2="974.4" y2="1031.4" stroke="#f2f2f2" stroke-width="0.6"/>
<line x1="1094.4" y1="573.8" x2="1094.4" y2="1031.4" stroke="#f2f2f2" stroke-width="0.6"/>
<line x1="467.4" y1="971.2" x2="1171.4" y2="971.2" stroke="#f2f2f2" stroke-width="0.6"/>
<line x1="467.4" y1="890.8" x2="1171.4" y2="890.8" stroke="#f2f2f2" stroke-width="0.6"/>
<line x1="467.4" y1="810.5" x2="1171.4" y2="810.5" stroke="#f2f2f2" stroke-width="0.6"/>
<line x1="467.4" y1="730.1" x2="1171.4" y2="730.1" stroke="#f2f2f2" stroke-width="0.6"/>
<line x1="467.4" y1="649.7" x2="1171.4" y2="649.7" stroke="#f2f2f2" stroke-width="0.6"/>
<line x1="554.2" y1="573.8" x2="554.2" y2="1031.4" stroke="#ebebeb" stroke-width="1"/>
<line x1="674.2" y1="573.8" x2="674.2" y2="1031.4" stroke="#ebebeb" stroke-width="1"/>
<line x1="794.3" y1="573.8" x2="794.3" y2="1031.4" stroke="#ebebeb" stroke-width="1"/>
<line x1="914.3" y1="573.8" x2="914.3" y2="1031.4" stroke="#ebebeb" stroke-width="1"/>
<line x1="1034.4" y1="573.8" x2="1034.4" y2="1031.4" stroke="#ebebeb" stroke-width="1"/>
<line x1="1154.4" y1="573.8" x2="1154.4" y2="1031.4" stroke="#ebebeb" stroke-width="1"/>
<line x1="467.4" y1="1011.4" x2="1171.4" y2="1011.4" stroke="#ebebeb" stroke-width="1"/>
<line x1="467.4" y1="931" x2="1171.4" y2="931" stroke="#ebebeb" stroke-width="1"/>
<line x1="467.4" y1="850.6" x2="1171.4" y2="850.6" stroke="#ebebeb" stroke-width="1"/>
<line x1="467.4" y1="770.3" x2="1171.4" y2="770.3" stroke="#ebebeb" stroke-width="1"/>
<line x1="467.4" y1="689.9" x2="1171.4" y2="689.9" stroke="#ebebeb" stroke-width="1"/>
<line x1="467.4" y1="609.5" x2="1171.4" y2="609.5" stroke="#ebebeb" stroke-width="1"/>
<circle cx="602.9" cy="971" r="2.6" fill="#bdbdbd"/>
<circle cx="690.4" cy="937.1" r="2.6" fill="#bdbdbd"/>
<circle cx="704.1" cy="944.8" r="2.6" fill="#bdbdbd"/>
<circle cx="710.7" cy="986.8" r="2.6" fill="#bdbdbd"/>
<circle cx="723.8" cy="945.5" r="2.6" fill="#bdbdbd"/>
<circle cx="728.5" cy="956.1" r="2.6" fill="#bdbdbd"/>
<circle cx="725.1" cy="973.1" r="2.6" fill="#bdbdbd"/>
<circle cx="730.4" cy="973.1" r="2.6" fill="#bdbdbd"/>
<circle cx="737.7" cy="811.5" r="2.6" fill="#bdbdbd"/>
<circle cx="740.3" cy="827.3" r="2.6" fill="#bdbdbd"/>
<circle cx="733" cy="833.9" r="2.6" fill="#bdbdbd"/>
<circle cx="729.6" cy="862" r="2.6" fill="#bdbdbd"/>
<circle cx="754" cy="863.6" r="2.6" fill="#bdbdbd"/>
<circle cx="757.4" cy="894.3" r="2.6" fill="#bdbdbd"/>
<circle cx="739.6" cy="910.6" r="2.6" fill="#bdbdbd"/>
<circle cx="746.9" cy="910.1" r="2.6" fill="#bdbdbd"/>
<circle cx="739.6" cy="918" r="2.6" fill="#bdbdbd"/>
<circle cx="746.1" cy="915.3" r="2.6" fill="#bdbdbd"/>
<circle cx="760.6" cy="919.3" r="2.6" fill="#bdbdbd"/>
<circle cx="748" cy="929.8" r="2.6" fill="#bdbdbd"/>
<circle cx="743.5" cy="950.8" r="2.6" fill="#bdbdbd"/>
<circle cx="740.9" cy="967.9" r="2.6" fill="#bdbdbd"/>
<circle cx="742.2" cy="971.8" r="2.6" fill="#bdbdbd"/>
<circle cx="748" cy="972.6" r="2.6" fill="#bdbdbd"/>
<circle cx="748.8" cy="981" r="2.6" fill="#bdbdbd"/>
<circle cx="826.8" cy="814.5" r="2.6" fill="#bdbdbd"/>
<circle cx="833" cy="826" r="2.6" fill="#bdbdbd"/>
<circle cx="827.4" cy="841.7" r="2.6" fill="#bdbdbd"/>
<circle cx="835.2" cy="851.2" r="2.6" fill="#bdbdbd"/>
<circle cx="813.9" cy="873.7" r="2.6" fill="#bdbdbd"/>
<circle cx="810" cy="883.5" r="2.6" fill="#bdbdbd"/>
<circle cx="847.6" cy="896.7" r="2.6" fill="#bdbdbd"/>
<circle cx="829.1" cy="899.5" r="2.6" fill="#bdbdbd"/>
<circle cx="815.3" cy="908.2" r="2.6" fill="#bdbdbd"/>
<circle cx="825.4" cy="908" r="2.6" fill="#bdbdbd"/>
<circle cx="826.8" cy="915" r="2.6" fill="#bdbdbd"/>
<circle cx="846.2" cy="913.9" r="2.6" fill="#bdbdbd"/>
<circle cx="852.6" cy="911.9" r="2.6" fill="#bdbdbd"/>
<circle cx="856.9" cy="913.9" r="2.6" fill="#bdbdbd"/>
<circle cx="861.6" cy="918.6" r="2.6" fill="#bdbdbd"/>
<circle cx="847.9" cy="922.8" r="2.6" fill="#bdbdbd"/>
<circle cx="847" cy="926.2" r="2.6" fill="#bdbdbd"/>
<circle cx="830.2" cy="922.8" r="2.6" fill="#bdbdbd"/>
<circle cx="819.5" cy="927.9" r="2.6" fill="#bdbdbd"/>
<circle cx="880.7" cy="937.7" r="2.6" fill="#bdbdbd"/>
<circle cx="1114.6" cy="939.7" r="2.6" fill="#bdbdbd"/>
<circle cx="927.3" cy="953.7" r="2.6" fill="#bdbdbd"/>
<circle cx="932.4" cy="962.1" r="2.6" fill="#bdbdbd"/>
<circle cx="894.2" cy="962.1" r="2.6" fill="#bdbdbd"/>
<circle cx="866.1" cy="963" r="2.6" fill="#bdbdbd"/>
<circle cx="915.8" cy="969.4" r="2.6" fill="#bdbdbd"/>
<circle cx="1100.5" cy="959.9" r="2.6" fill="#bdbdbd"/>
<circle cx="1138.7" cy="966.9" r="2.6" fill="#bdbdbd"/>
<circle cx="1139.6" cy="988.5" r="2.6" fill="#bdbdbd"/>
<circle cx="910.8" cy="979.8" r="2.6" fill="#bdbdbd"/>
<circle cx="953.4" cy="981.8" r="2.6" fill="#bdbdbd"/>
<circle cx="962.1" cy="985.2" r="2.6" fill="#bdbdbd"/>
<circle cx="994.4" cy="978.4" r="2.6" fill="#bdbdbd"/>
<circle cx="863.9" cy="979" r="2.6" fill="#bdbdbd"/>
<circle cx="853.5" cy="945.9" r="2.6" fill="#bdbdbd"/>
<circle cx="854.9" cy="934.6" r="2.6" fill="#bdbdbd"/>
<circle cx="752.4" cy="949.6" r="2.6" fill="#bdbdbd"/>
<circle cx="754.9" cy="949.6" r="2.6" fill="#bdbdbd"/>
<circle cx="761" cy="947.1" r="2.6" fill="#bdbdbd"/>
<circle cx="774.9" cy="949.6" r="2.6" fill="#bdbdbd"/>
<circle cx="783.4" cy="950.8" r="2.6" fill="#bdbdbd"/>
<circle cx="755.7" cy="959.7" r="2.6" fill="#bdbdbd"/>
<circle cx="766.7" cy="958.5" r="2.6" fill="#bdbdbd"/>
<circle cx="775.7" cy="961" r="2.6" fill="#bdbdbd"/>
<circle cx="753.7" cy="965.9" r="2.6" fill="#bdbdbd"/>
<circle cx="761" cy="965.9" r="2.6" fill="#bdbdbd"/>
<circle cx="768.7" cy="965" r="2.6" fill="#bdbdbd"/>
<circle cx="774.4" cy="967.5" r="2.6" fill="#bdbdbd"/>
<circle cx="781.8" cy="967.5" r="2.6" fill="#bdbdbd"/>
<circle cx="758.6" cy="972" r="2.6" fill="#bdbdbd"/>
<circle cx="764.3" cy="971.6" r="2.6" fill="#bdbdbd"/>
<circle cx="771.2" cy="971.2" r="2.6" fill="#bdbdbd"/>
<circle cx="778.9" cy="972.4" r="2.6" fill="#bdbdbd"/>
<circle cx="762.2" cy="978.9" r="2.6" fill="#bdbdbd"/>
<circle cx="769.6" cy="978.5" r="2.6" fill="#bdbdbd"/>
<circle cx="774.9" cy="977.3" r="2.6" fill="#bdbdbd"/>
<circle cx="783" cy="976.5" r="2.6" fill="#bdbdbd"/>
<circle cx="759.8" cy="985.4" r="2.6" fill="#bdbdbd"/>
<circle cx="764.7" cy="987" r="2.6" fill="#bdbdbd"/>
<circle cx="772.4" cy="985.4" r="2.6" fill="#bdbdbd"/>
<circle cx="782.6" cy="983.8" r="2.6" fill="#bdbdbd"/>
<circle cx="787.9" cy="982.6" r="2.6" fill="#bdbdbd"/>
<circle cx="785" cy="982.2" r="2.6" fill="#bdbdbd"/>
<circle cx="752.4" cy="993.2" r="2.6" fill="#bdbdbd"/>
<circle cx="767.9" cy="994.8" r="2.6" fill="#bdbdbd"/>
<circle cx="765.1" cy="1000.9" r="2.6" fill="#bdbdbd"/>
<circle cx="778.1" cy="1007" r="2.6" fill="#bdbdbd"/>
<circle cx="782.6" cy="987" r="2.6" fill="#bdbdbd"/>
<circle cx="783.4" cy="990.3" r="2.6" fill="#bdbdbd"/>
<circle cx="784.2" cy="992.8" r="2.6" fill="#bdbdbd"/>
<circle cx="789.9" cy="992.8" r="2.6" fill="#bdbdbd"/>
<circle cx="786.7" cy="995.2" r="2.6" fill="#bdbdbd"/>
<circle cx="778.5" cy="996.8" r="2.6" fill="#bdbdbd"/>
<circle cx="781" cy="998.5" r="2.6" fill="#bdbdbd"/>
<circle cx="785" cy="1000.1" r="2.6" fill="#bdbdbd"/>
<circle cx="788.3" cy="1001.7" r="2.6" fill="#bdbdbd"/>
<circle cx="784.2" cy="1005.8" r="2.6" fill="#bdbdbd"/>
<circle cx="788.3" cy="1005" r="2.6" fill="#bdbdbd"/>
<circle cx="790.7" cy="1003.3" r="2.6" fill="#bdbdbd"/>
<circle cx="792.4" cy="1006.6" r="2.6" fill="#bdbdbd"/>
<circle cx="794" cy="1009.1" r="2.6" fill="#bdbdbd"/>
<circle cx="794.8" cy="1011.5" r="2.6" fill="#bdbdbd"/>
<circle cx="791.6" cy="1008.2" r="2.6" fill="#bdbdbd"/>
<circle cx="795.6" cy="1007.4" r="2.6" fill="#bdbdbd"/>
<circle cx="797.3" cy="1005.8" r="2.6" fill="#bdbdbd"/>
<circle cx="787.1" cy="998.1" r="2.6" fill="#bdbdbd"/>
<circle cx="790.7" cy="999.3" r="2.6" fill="#bdbdbd"/>
<circle cx="793.2" cy="1003.8" r="2.6" fill="#bdbdbd"/>
<circle cx="798.9" cy="1001.7" r="2.6" fill="#bdbdbd"/>
<circle cx="800.5" cy="999.3" r="2.6" fill="#bdbdbd"/>
<circle cx="803" cy="997.6" r="2.6" fill="#bdbdbd"/>
<circle cx="805.4" cy="996.8" r="2.6" fill="#bdbdbd"/>
<circle cx="807" cy="995.2" r="2.6" fill="#bdbdbd"/>
<circle cx="808.7" cy="993.6" r="2.6" fill="#bdbdbd"/>
<circle cx="811.1" cy="991.9" r="2.6" fill="#bdbdbd"/>
<circle cx="813.6" cy="989.5" r="2.6" fill="#bdbdbd"/>
<circle cx="815.2" cy="991.1" r="2.6" fill="#bdbdbd"/>
<circle cx="816" cy="999.3" r="2.6" fill="#bdbdbd"/>
<circle cx="814.4" cy="995.2" r="2.6" fill="#bdbdbd"/>
<circle cx="810.3" cy="989.5" r="2.6" fill="#bdbdbd"/>
<circle cx="807" cy="988.7" r="2.6" fill="#bdbdbd"/>
<circle cx="803.8" cy="987" r="2.6" fill="#bdbdbd"/>
<circle cx="800.5" cy="988.7" r="2.6" fill="#bdbdbd"/>
<circle cx="799.7" cy="991.9" r="2.6" fill="#bdbdbd"/>
<circle cx="802.2" cy="991.9" r="2.6" fill="#bdbdbd"/>
<circle cx="803.8" cy="983.8" r="2.6" fill="#bdbdbd"/>
<circle cx="802.2" cy="982.2" r="2.6" fill="#bdbdbd"/>
<circle cx="799.7" cy="980.5" r="2.6" fill="#bdbdbd"/>
<circle cx="805.4" cy="980.5" r="2.6" fill="#bdbdbd"/>
<circle cx="807.9" cy="981.3" r="2.6" fill="#bdbdbd"/>
<circle cx="811.1" cy="980.5" r="2.6" fill="#bdbdbd"/>
<circle cx="815.2" cy="983" r="2.6" fill="#bdbdbd"/>
<circle cx="798.1" cy="1003.3" r="2.6" fill="#bdbdbd"/>
<circle cx="802.2" cy="1000.9" r="2.6" fill="#bdbdbd"/>
<circle cx="806.2" cy="1000.1" r="2.6" fill="#bdbdbd"/>
<circle cx="809.5" cy="997.6" r="2.6" fill="#bdbdbd"/>
<circle cx="811.9" cy="995.2" r="2.6" fill="#bdbdbd"/>
<circle cx="803" cy="994.4" r="2.6" fill="#bdbdbd"/>
<circle cx="805.4" cy="991.9" r="2.6" fill="#bdbdbd"/>
<circle cx="803" cy="970.7" r="2.6" fill="#bdbdbd"/>
<circle cx="806.2" cy="971.6" r="2.6" fill="#bdbdbd"/>
<circle cx="811.9" cy="972.8" r="2.6" fill="#bdbdbd"/>
<circle cx="808.7" cy="969.1" r="2.6" fill="#bdbdbd"/>
<circle cx="811.1" cy="967.5" r="2.6" fill="#bdbdbd"/>
<circle cx="807" cy="962.6" r="2.6" fill="#bdbdbd"/>
<circle cx="811.9" cy="959.3" r="2.6" fill="#bdbdbd"/>
<circle cx="814.4" cy="956.9" r="2.6" fill="#bdbdbd"/>
<circle cx="816.8" cy="954.4" r="2.6" fill="#bdbdbd"/>
<circle cx="819.3" cy="952.8" r="2.6" fill="#bdbdbd"/>
<circle cx="820.9" cy="954.4" r="2.6" fill="#bdbdbd"/>
<circle cx="822.5" cy="956.1" r="2.6" fill="#bdbdbd"/>
<circle cx="825.8" cy="951.2" r="2.6" fill="#bdbdbd"/>
<circle cx="808.7" cy="947.1" r="2.6" fill="#bdbdbd"/>
<circle cx="811.9" cy="947.1" r="2.6" fill="#bdbdbd"/>
<circle cx="815.2" cy="947.5" r="2.6" fill="#bdbdbd"/>
<circle cx="818.5" cy="947.9" r="2.6" fill="#bdbdbd"/>
<circle cx="810.3" cy="962.6" r="2.6" fill="#bdbdbd"/>
<circle cx="813.6" cy="961.8" r="2.6" fill="#bdbdbd"/>
<circle cx="817.6" cy="968.3" r="2.6" fill="#bdbdbd"/>
<circle cx="820.1" cy="969.9" r="2.6" fill="#bdbdbd"/>
<circle cx="823.3" cy="965" r="2.6" fill="#bdbdbd"/>
<circle cx="821.7" cy="974" r="2.6" fill="#bdbdbd"/>
<circle cx="825" cy="972.4" r="2.6" fill="#bdbdbd"/>
<circle cx="827.4" cy="968.3" r="2.6" fill="#bdbdbd"/>
<circle cx="821.7" cy="978.9" r="2.6" fill="#bdbdbd"/>
<circle cx="825" cy="980.5" r="2.6" fill="#bdbdbd"/>
<circle cx="828.2" cy="979.7" r="2.6" fill="#bdbdbd"/>
<circle cx="829.9" cy="980.5" r="2.6" fill="#bdbdbd"/>
<circle cx="820.9" cy="983" r="2.6" fill="#bdbdbd"/>
<circle cx="823.3" cy="988.7" r="2.6" fill="#bdbdbd"/>
<circle cx="819.3" cy="975.6" r="2.6" fill="#bdbdbd"/>
<circle cx="820.1" cy="978.9" r="2.6" fill="#bdbdbd"/>
<circle cx="828.2" cy="961.8" r="2.6" fill="#bdbdbd"/>
<circle cx="831.5" cy="960.6" r="2.6" fill="#bdbdbd"/>
<circle cx="834.8" cy="960.2" r="2.6" fill="#bdbdbd"/>
<circle cx="833.1" cy="969.9" r="2.6" fill="#bdbdbd"/>
<circle cx="833.1" cy="985.8" r="2.6" fill="#bdbdbd"/>
<circle cx="843.7" cy="978.1" r="2.6" fill="#bdbdbd"/>
<circle cx="846.2" cy="965" r="2.6" fill="#bdbdbd"/>
<circle cx="848.6" cy="953.6" r="2.6" fill="#bdbdbd"/>
<circle cx="842.9" cy="947.9" r="2.6" fill="#bdbdbd"/>
<circle cx="831.5" cy="943.9" r="2.6" fill="#bdbdbd"/>
<circle cx="833.9" cy="945.5" r="2.6" fill="#bdbdbd"/>
<circle cx="837.2" cy="943" r="2.6" fill="#bdbdbd"/>
<circle cx="839.6" cy="939" r="2.6" fill="#bdbdbd"/>
<circle cx="842.1" cy="941.4" r="2.6" fill="#bdbdbd"/>
<circle cx="844.5" cy="934.9" r="2.6" fill="#bdbdbd"/>
<circle cx="670.4" cy="594.3" r="2.6" fill="#5589ee"/>
<circle cx="684" cy="674" r="2.6" fill="#5589ee"/>
<circle cx="629.8" cy="753.4" r="2.6" fill="#5589ee"/>
<circle cx="675.9" cy="762.5" r="2.6" fill="#5589ee"/>
<circle cx="708.9" cy="763.3" r="2.6" fill="#5589ee"/>
<circle cx="703.6" cy="820.7" r="2.6" fill="#5589ee"/>
<circle cx="678.6" cy="837.5" r="2.6" fill="#5589ee"/>
<circle cx="568.8" cy="855.2" r="2.6" fill="#5589ee"/>
<circle cx="507.3" cy="860.7" r="2.6" fill="#5589ee"/>
<circle cx="499.4" cy="872" r="2.6" fill="#5589ee"/>
<circle cx="501.2" cy="883.3" r="2.6" fill="#5589ee"/>
<circle cx="668.1" cy="872" r="2.6" fill="#5589ee"/>
<circle cx="681.2" cy="881.7" r="2.6" fill="#5589ee"/>
<circle cx="646.8" cy="883.3" r="2.6" fill="#5589ee"/>
<circle cx="546.9" cy="902.5" r="2.6" fill="#5589ee"/>
<circle cx="715.4" cy="890.4" r="2.6" fill="#5589ee"/>
<circle cx="717.7" cy="897.2" r="2.6" fill="#5589ee"/>
<circle cx="696.5" cy="911.9" r="2.6" fill="#5589ee"/>
<circle cx="709.1" cy="913.2" r="2.6" fill="#5589ee"/>
<circle cx="717.7" cy="915.3" r="2.6" fill="#5589ee"/>
<circle cx="655.5" cy="916.6" r="2.6" fill="#5589ee"/>
<circle cx="892.2" cy="794.3" r="2.6" fill="#b8141f"/>
<circle cx="893.9" cy="815" r="2.6" fill="#b8141f"/>
<circle cx="884.7" cy="841.7" r="2.6" fill="#b8141f"/>
<circle cx="907.4" cy="863.9" r="2.6" fill="#b8141f"/>
<circle cx="900.4" cy="888.9" r="2.6" fill="#b8141f"/>
<circle cx="974.8" cy="919.7" r="2.6" fill="#b8141f"/>
<circle cx="988" cy="922.8" r="2.6" fill="#b8141f"/>
<line x1="499.4" y1="872" x2="530.7" y2="881.2" stroke="#5589ee" stroke-width="1.2"/>
<line x1="646.8" y1="883.3" x2="625.8" y2="909.3" stroke="#5589ee" stroke-width="1.2"/>
<line x1="546.9" y1="902.5" x2="560.9" y2="937.1" stroke="#5589ee" stroke-width="1.2"/>
<line x1="717.7" y1="897.2" x2="788.2" y2="897.2" stroke="#5589ee" stroke-width="1.2"/>
<line x1="696.5" y1="911.9" x2="721.7" y2="937.7" stroke="#5589ee" stroke-width="1.2"/>
<line x1="724.1" y1="573.8" x2="724.1" y2="1031.4" stroke="#111" stroke-width="1.1" stroke-dasharray="1.1 1.1"/>
<line x1="864.5" y1="573.8" x2="864.5" y2="1031.4" stroke="#111" stroke-width="1.1" stroke-dasharray="1.1 1.1"/>
<line x1="467.4" y1="931" x2="1171.4" y2="931" stroke="#111" stroke-width="1.1" stroke-dasharray="1.1 1.1"/>
<text x="603.9" y="609.1" font-size="12.9" fill="#6e91d6">2-Ketobutyric acid</text>
<text x="610.5" y="688.5" font-size="12.9" fill="#6e91d6">Citraconic anhydride</text>
<text x="566.1" y="748.6" font-size="12.9" fill="#6e91d6">Aminoadipic acid</text>
<text x="601.4" y="777.3" font-size="12.9" fill="#6e91d6">Succinaldehyde</text>
<text x="701.6" y="777.8" font-size="12.9" fill="#6e91d6">Triacetic acid</text>
<text x="672" y="816.1" font-size="12.9" fill="#6e91d6">Succinylacetone</text>
<text x="684.9" y="849.8" font-size="12.9" fill="#6e91d6">4-Ethylphenylsulfate</text>
<text x="510.9" y="850.3" font-size="12.9" fill="#6e91d6">Trimethadione</text>
<text x="471.5" y="869.7" font-size="12.9" fill="#6e91d6">4-Acetamidobutanoic acid</text>
<text x="533.3" y="886.6" font-size="12.9" fill="#6e91d6">4-Methoxycinnamic acid</text>
<text x="471.5" y="897.6" font-size="12.9" fill="#6e91d6">Diisopropanolamine</text>
<text x="629.2" y="867.4" font-size="12.9" fill="#6e91d6">Pentanamide</text>
<text x="565.1" y="914.9" font-size="12.9" fill="#6e91d6">Thymidine</text>
<text x="632.6" y="898.1" font-size="12.9" fill="#6e91d6">2-Hexenal</text>
<text x="471.5" y="948.3" font-size="12.9" fill="#6e91d6">3,4-Dihydroxyphenylacetic acid</text>
<text x="700.1" y="884.5" font-size="12.9" fill="#6e91d6">3-Hydroxynorvaline</text>
<text x="790.3" y="901.6" font-size="12.9" fill="#6e91d6">MHPG</text>
<text x="636.6" y="908.1" font-size="12.9" fill="#6e91d6">Testosterone glucuronide</text>
<text x="723.8" y="943.6" font-size="12.9" fill="#6e91d6">4-Methylcatechol</text>
<text x="648.9" y="930.7" font-size="12.9" fill="#6e91d6">Butyric acid</text>
<text x="724.3" y="926.8" font-size="12.9" fill="#6e91d6">Hexadecanamide</text>
<text x="843.4" y="789.3" font-size="12.9" fill="#a3303f">Stachydrine</text>
<text x="872.3" y="810.1" font-size="12.9" fill="#a3303f">Palmitic Acid</text>
<text x="846.2" y="836.8" font-size="12.9" fill="#a3303f">Glycerol</text>
<text x="890" y="858.9" font-size="12.9" fill="#a3303f">Ferulic acid</text>
<text x="868.7" y="883.9" font-size="12.9" fill="#a3303f">Porphobilinogen</text>
<text x="863" y="914.8" font-size="12.9" fill="#a3303f">18-Hydroxyeicosapentaenoic acid</text>
<text x="931.8" y="937.3" font-size="12.9" fill="#a3303f">Homovanillic acid sulfate</text>
<rect x="467.4" y="573.8" width="704" height="457.6" fill="none" stroke="#333" stroke-width="1.1"/>
<line x1="554.2" y1="1031.4" x2="554.2" y2="1034.2" stroke="#333" stroke-width="1"/>
<text x="554.2" y="1045.4" font-size="10.5" text-anchor="middle" fill="#4d4d4d">-2</text>
<line x1="674.2" y1="1031.4" x2="674.2" y2="1034.2" stroke="#333" stroke-width="1"/>
<text x="674.2" y="1045.4" font-size="10.5" text-anchor="middle" fill="#4d4d4d">-1</text>
<line x1="794.3" y1="1031.4" x2="794.3" y2="1034.2" stroke="#333" stroke-width="1"/>
<text x="794.3" y="1045.4" font-size="10.5" text-anchor="middle" fill="#4d4d4d">0</text>
<line x1="914.3" y1="1031.4" x2="914.3" y2="1034.2" stroke="#333" stroke-width="1"/>
<text x="914.3" y="1045.4" font-size="10.5" text-anchor="middle" fill="#4d4d4d">1</text>
<line x1="1034.4" y1="1031.4" x2="1034.4" y2="1034.2" stroke="#333" stroke-width="1"/>
<text x="1034.4" y="1045.4" font-size="10.5" text-anchor="middle" fill="#4d4d4d">2</text>
<line x1="1154.4" y1="1031.4" x2="1154.4" y2="1034.2" stroke="#333" stroke-width="1"/>
<text x="1154.4" y="1045.4" font-size="10.5" text-anchor="middle" fill="#4d4d4d">3</text>
<line x1="464.6" y1="1011.4" x2="467.4" y2="1011.4" stroke="#333" stroke-width="1"/>
<text x="461.1" y="1015.2" font-size="10.5" text-anchor="end" fill="#4d4d4d">0</text>
<line x1="464.6" y1="931" x2="467.4" y2="931" stroke="#333" stroke-width="1"/>
<text x="461.1" y="934.8" font-size="10.5" text-anchor="end" fill="#4d4d4d">1</text>
<line x1="464.6" y1="850.6" x2="467.4" y2="850.6" stroke="#333" stroke-width="1"/>
<text x="461.1" y="854.4" font-size="10.5" text-anchor="end" fill="#4d4d4d">2</text>
<line x1="464.6" y1="770.3" x2="467.4" y2="770.3" stroke="#333" stroke-width="1"/>
<text x="461.1" y="774.1" font-size="10.5" text-anchor="end" fill="#4d4d4d">3</text>
<line x1="464.6" y1="689.9" x2="467.4" y2="689.9" stroke="#333" stroke-width="1"/>
<text x="461.1" y="693.7" font-size="10.5" text-anchor="end" fill="#4d4d4d">4</text>
<line x1="464.6" y1="609.5" x2="467.4" y2="609.5" stroke="#333" stroke-width="1"/>
<text x="461.1" y="613.3" font-size="10.5" text-anchor="end" fill="#4d4d4d">5</text>
<text x="819.4" y="1059.3" font-size="12.7" text-anchor="middle" fill="#111">log2(FC)</text>
<text x="449.5" y="802.6" font-size="12.7" text-anchor="middle" fill="#111" transform="rotate(-90 449.5 802.6)">-log10(p)</text>
<text x="1191.3" y="773.7" font-size="12.7" fill="#111">Status</text>
<circle cx="1201.1" cy="790.9" r="2.3" fill="#5589ee"/>
<text x="1201.1" y="795.7" font-size="6.5" text-anchor="middle" fill="#5589ee" font-weight="bold">a</text>
<text x="1217.6" y="795.5" font-size="10" fill="#111">DOWN</text>
<circle cx="1201.1" cy="810.8" r="2.3" fill="#bdbdbd"/>
<text x="1201.1" y="815.6" font-size="6.5" text-anchor="middle" fill="#bdbdbd" font-weight="bold">a</text>
<text x="1217.6" y="815.4" font-size="10" fill="#111">Non-SIG</text>
<circle cx="1201.1" cy="831" r="2.3" fill="#b8141f"/>
<text x="1201.1" y="835.8" font-size="6.5" text-anchor="middle" fill="#b8141f" font-weight="bold">a</text>
<text x="1217.6" y="835.6" font-size="10" fill="#111">UP</text>
<rect x="1513.7" y="17.5" width="363.7" height="489.7" fill="#fff"/>
<line x1="1542.2" y1="17.5" x2="1542.2" y2="507.2" stroke="#f0f0f0" stroke-width="0.7"/>
<line x1="1628.8" y1="17.5" x2="1628.8" y2="507.2" stroke="#f0f0f0" stroke-width="0.7"/>
<line x1="1715.4" y1="17.5" x2="1715.4" y2="507.2" stroke="#f0f0f0" stroke-width="0.7"/>
<line x1="1802" y1="17.5" x2="1802" y2="507.2" stroke="#f0f0f0" stroke-width="0.7"/>
<line x1="1585.5" y1="17.5" x2="1585.5" y2="507.2" stroke="#e8e8e8" stroke-width="1"/>
<line x1="1672.1" y1="17.5" x2="1672.1" y2="507.2" stroke="#e8e8e8" stroke-width="1"/>
<line x1="1758.7" y1="17.5" x2="1758.7" y2="507.2" stroke="#e8e8e8" stroke-width="1"/>
<line x1="1845.3" y1="17.5" x2="1845.3" y2="507.2" stroke="#e8e8e8" stroke-width="1"/>
<line x1="1513.7" y1="32.5" x2="1877.4" y2="32.5" stroke="#e8e8e8" stroke-width="1"/>
<line x1="1510.2" y1="32.5" x2="1513.7" y2="32.5" stroke="#333" stroke-width="1.1"/>
<line x1="1513.7" y1="58" x2="1877.4" y2="58" stroke="#e8e8e8" stroke-width="1"/>
<line x1="1510.2" y1="58" x2="1513.7" y2="58" stroke="#333" stroke-width="1.1"/>
<line x1="1513.7" y1="83.6" x2="1877.4" y2="83.6" stroke="#e8e8e8" stroke-width="1"/>
<line x1="1510.2" y1="83.6" x2="1513.7" y2="83.6" stroke="#333" stroke-width="1.1"/>
<line x1="1513.7" y1="109.1" x2="1877.4" y2="109.1" stroke="#e8e8e8" stroke-width="1"/>
<line x1="1510.2" y1="109.1" x2="1513.7" y2="109.1" stroke="#333" stroke-width="1.1"/>
<line x1="1513.7" y1="134.6" x2="1877.4" y2="134.6" stroke="#e8e8e8" stroke-width="1"/>
<line x1="1510.2" y1="134.6" x2="1513.7" y2="134.6" stroke="#333" stroke-width="1.1"/>
<line x1="1513.7" y1="160.2" x2="1877.4" y2="160.2" stroke="#e8e8e8" stroke-width="1"/>
<line x1="1510.2" y1="160.2" x2="1513.7" y2="160.2" stroke="#333" stroke-width="1.1"/>
<line x1="1513.7" y1="185.7" x2="1877.4" y2="185.7" stroke="#e8e8e8" stroke-width="1"/>
<line x1="1510.2" y1="185.7" x2="1513.7" y2="185.7" stroke="#333" stroke-width="1.1"/>
<line x1="1513.7" y1="211.2" x2="1877.4" y2="211.2" stroke="#e8e8e8" stroke-width="1"/>
<line x1="1510.2" y1="211.2" x2="1513.7" y2="211.2" stroke="#333" stroke-width="1.1"/>
<line x1="1513.7" y1="236.7" x2="1877.4" y2="236.7" stroke="#e8e8e8" stroke-width="1"/>
<line x1="1510.2" y1="236.7" x2="1513.7" y2="236.7" stroke="#333" stroke-width="1.1"/>
<line x1="1513.7" y1="262.3" x2="1877.4" y2="262.3" stroke="#e8e8e8" stroke-width="1"/>
<line x1="1510.2" y1="262.3" x2="1513.7" y2="262.3" stroke="#333" stroke-width="1.1"/>
<line x1="1513.7" y1="287.8" x2="1877.4" y2="287.8" stroke="#e8e8e8" stroke-width="1"/>
<line x1="1510.2" y1="287.8" x2="1513.7" y2="287.8" stroke="#333" stroke-width="1.1"/>
<line x1="1513.7" y1="313.3" x2="1877.4" y2="313.3" stroke="#e8e8e8" stroke-width="1"/>
<line x1="1510.2" y1="313.3" x2="1513.7" y2="313.3" stroke="#333" stroke-width="1.1"/>
<line x1="1513.7" y1="338.9" x2="1877.4" y2="338.9" stroke="#e8e8e8" stroke-width="1"/>
<line x1="1510.2" y1="338.9" x2="1513.7" y2="338.9" stroke="#333" stroke-width="1.1"/>
<line x1="1513.7" y1="364.4" x2="1877.4" y2="364.4" stroke="#e8e8e8" stroke-width="1"/>
<line x1="1510.2" y1="364.4" x2="1513.7" y2="364.4" stroke="#333" stroke-width="1.1"/>
<line x1="1513.7" y1="389.9" x2="1877.4" y2="389.9" stroke="#e8e8e8" stroke-width="1"/>
<line x1="1510.2" y1="389.9" x2="1513.7" y2="389.9" stroke="#333" stroke-width="1.1"/>
<line x1="1513.7" y1="415.5" x2="1877.4" y2="415.5" stroke="#e8e8e8" stroke-width="1"/>
<line x1="1510.2" y1="415.5" x2="1513.7" y2="415.5" stroke="#333" stroke-width="1.1"/>
<line x1="1513.7" y1="441" x2="1877.4" y2="441" stroke="#e8e8e8" stroke-width="1"/>
<line x1="1510.2" y1="441" x2="1513.7" y2="441" stroke="#333" stroke-width="1.1"/>
<line x1="1513.7" y1="466.5" x2="1877.4" y2="466.5" stroke="#e8e8e8" stroke-width="1"/>
<line x1="1510.2" y1="466.5" x2="1513.7" y2="466.5" stroke="#333" stroke-width="1.1"/>
<line x1="1513.7" y1="492" x2="1877.4" y2="492" stroke="#e8e8e8" stroke-width="1"/>
<line x1="1510.2" y1="492" x2="1513.7" y2="492" stroke="#333" stroke-width="1.1"/>
<circle cx="1861.1" cy="32.5" r="7.7" fill="#fe0000"/>
<circle cx="1861.1" cy="58" r="7.7" fill="#fe0000"/>
<circle cx="1861.1" cy="83.6" r="7.7" fill="#fe0000"/>
<circle cx="1861.1" cy="109.1" r="7.7" fill="#fe0000"/>
<circle cx="1861.1" cy="134.6" r="7.7" fill="#fe0000"/>
<circle cx="1861.1" cy="160.2" r="7.7" fill="#fe0000"/>
<circle cx="1710.5" cy="185.7" r="5.2" fill="#fa1208"/>
<circle cx="1690.1" cy="211.2" r="6.1" fill="#fa1208"/>
<circle cx="1674.5" cy="236.7" r="4.9" fill="#f9170b"/>
<circle cx="1623.8" cy="262.3" r="5.4" fill="#f73418"/>
<circle cx="1623.8" cy="287.8" r="5.4" fill="#f73418"/>
<circle cx="1623.8" cy="313.3" r="5.4" fill="#f73418"/>
<circle cx="1623.8" cy="338.9" r="5.4" fill="#f73418"/>
<circle cx="1595" cy="364.4" r="5" fill="#f5461f"/>
<circle cx="1571.4" cy="389.9" r="4.4" fill="#f6704a"/>
<circle cx="1544.3" cy="415.5" r="3.6" fill="#fbbd96"/>
<circle cx="1542.1" cy="441" r="3.4" fill="#fcc7a0"/>
<circle cx="1537.9" cy="466.5" r="3.4" fill="#fdd6b2"/>
<circle cx="1530" cy="492" r="2.4" fill="#fffbdd"/>
<rect x="1513.7" y="17.5" width="363.7" height="489.7" fill="none" stroke="#666" stroke-width="1.1"/>
<line x1="1585.5" y1="507.2" x2="1585.5" y2="510.2" stroke="#333" stroke-width="1"/>
<text x="1585.5" y="521.3" font-size="10.8" font-family="'DejaVu Sans', sans-serif" text-anchor="middle" fill="#4d4d4d">2</text>
<line x1="1672.1" y1="507.2" x2="1672.1" y2="510.2" stroke="#333" stroke-width="1"/>
<text x="1672.1" y="521.3" font-size="10.8" font-family="'DejaVu Sans', sans-serif" text-anchor="middle" fill="#4d4d4d">3</text>
<line x1="1758.7" y1="507.2" x2="1758.7" y2="510.2" stroke="#333" stroke-width="1"/>
<text x="1758.7" y="521.3" font-size="10.8" font-family="'DejaVu Sans', sans-serif" text-anchor="middle" fill="#4d4d4d">4</text>
<line x1="1845.3" y1="507.2" x2="1845.3" y2="510.2" stroke="#333" stroke-width="1"/>
<text x="1845.3" y="521.3" font-size="10.8" font-family="'DejaVu Sans', sans-serif" text-anchor="middle" fill="#4d4d4d">5</text>
<text x="1695.5" y="533.9" font-size="12.4" font-family="'DejaVu Sans', sans-serif" text-anchor="middle" fill="#111">-log10 (p-value)</text>
<text x="1507.3" y="36.1" font-size="9.9" font-family="'DejaVu Sans', sans-serif" text-anchor="end" fill="#4d4d4d">Glycine and Serine Metabolism</text>
<text x="1507.3" y="61.6" font-size="9.9" font-family="'DejaVu Sans', sans-serif" text-anchor="end" fill="#4d4d4d">Propanoate Metabolism</text>
<text x="1507.3" y="87.1" font-size="9.9" font-family="'DejaVu Sans', sans-serif" text-anchor="end" fill="#4d4d4d">Selenoamino Acid Metabolism</text>
<text x="1507.3" y="112.7" font-size="9.9" font-family="'DejaVu Sans', sans-serif" text-anchor="end" fill="#4d4d4d">Methionine Metabolism</text>
<text x="1507.3" y="138.2" font-size="9.9" font-family="'DejaVu Sans', sans-serif" text-anchor="end" fill="#4d4d4d">Threonine and 2-Oxobutanoate Degradation</text>
<text x="1507.3" y="163.7" font-size="9.9" font-family="'DejaVu Sans', sans-serif" text-anchor="end" fill="#4d4d4d">Homocysteine Degradation</text>
<text x="1507.3" y="189.2" font-size="9.9" font-family="'DejaVu Sans', sans-serif" text-anchor="end" fill="#4d4d4d">Glycerolipid Metabolism</text>
<text x="1507.3" y="214.8" font-size="9.9" font-family="'DejaVu Sans', sans-serif" text-anchor="end" fill="#4d4d4d">Lysine Degradation</text>
<text x="1507.3" y="240.3" font-size="9.9" font-family="'DejaVu Sans', sans-serif" text-anchor="end" fill="#4d4d4d">Bile Acid Biosynthesis</text>
<text x="1507.3" y="265.8" font-size="9.9" font-family="'DejaVu Sans', sans-serif" text-anchor="end" fill="#4d4d4d">Steroid Biosynthesis</text>
<text x="1507.3" y="291.4" font-size="9.9" font-family="'DejaVu Sans', sans-serif" text-anchor="end" fill="#4d4d4d">Fatty acid Metabolism</text>
<text x="1507.3" y="316.9" font-size="9.9" font-family="'DejaVu Sans', sans-serif" text-anchor="end" fill="#4d4d4d">Fatty Acid Elongation In Mitochondria</text>
<text x="1507.3" y="342.4" font-size="9.9" font-family="'DejaVu Sans', sans-serif" text-anchor="end" fill="#4d4d4d">Fatty Acid Biosynthesis</text>
<text x="1507.3" y="368" font-size="9.9" font-family="'DejaVu Sans', sans-serif" text-anchor="end" fill="#4d4d4d">Galactose Metabolism</text>
<text x="1507.3" y="393.5" font-size="9.9" font-family="'DejaVu Sans', sans-serif" text-anchor="end" fill="#4d4d4d">Phenylalanine and Tyrosine Metabolism</text>
<text x="1507.3" y="419" font-size="9.9" font-family="'DejaVu Sans', sans-serif" text-anchor="end" fill="#4d4d4d">Porphyrin Metabolism</text>
<text x="1507.3" y="444.5" font-size="9.9" font-family="'DejaVu Sans', sans-serif" text-anchor="end" fill="#4d4d4d">Pyrimidine Metabolism</text>
<text x="1507.3" y="470.1" font-size="9.9" font-family="'DejaVu Sans', sans-serif" text-anchor="end" fill="#4d4d4d">Vitamin B6 Metabolism</text>
<text x="1507.3" y="495.6" font-size="9.9" font-family="'DejaVu Sans', sans-serif" text-anchor="end" fill="#4d4d4d">Tyrosine Metabolism</text>
<rect x="1435.7" y="552.4" width="443.7" height="483.2" fill="#fff"/>
<line x1="1459.5" y1="552.4" x2="1459.5" y2="1035.6" stroke="#f0f0f0" stroke-width="0.7"/>
<line x1="1579.1" y1="552.4" x2="1579.1" y2="1035.6" stroke="#f0f0f0" stroke-width="0.7"/>
<line x1="1698.8" y1="552.4" x2="1698.8" y2="1035.6" stroke="#f0f0f0" stroke-width="0.7"/>
<line x1="1818.5" y1="552.4" x2="1818.5" y2="1035.6" stroke="#f0f0f0" stroke-width="0.7"/>
<line x1="1519.3" y1="552.4" x2="1519.3" y2="1035.6" stroke="#e8e8e8" stroke-width="1"/>
<line x1="1639" y1="552.4" x2="1639" y2="1035.6" stroke="#e8e8e8" stroke-width="1"/>
<line x1="1758.7" y1="552.4" x2="1758.7" y2="1035.6" stroke="#e8e8e8" stroke-width="1"/>
<line x1="1435.7" y1="587.7" x2="1879.4" y2="587.7" stroke="#e8e8e8" stroke-width="1"/>
<line x1="1432.2" y1="587.7" x2="1435.7" y2="587.7" stroke="#333" stroke-width="1.1"/>
<line x1="1435.7" y1="646.7" x2="1879.4" y2="646.7" stroke="#e8e8e8" stroke-width="1"/>
<line x1="1432.2" y1="646.7" x2="1435.7" y2="646.7" stroke="#333" stroke-width="1.1"/>
<line x1="1435.7" y1="705.7" x2="1879.4" y2="705.7" stroke="#e8e8e8" stroke-width="1"/>
<line x1="1432.2" y1="705.7" x2="1435.7" y2="705.7" stroke="#333" stroke-width="1.1"/>
<line x1="1435.7" y1="764.7" x2="1879.4" y2="764.7" stroke="#e8e8e8" stroke-width="1"/>
<line x1="1432.2" y1="764.7" x2="1435.7" y2="764.7" stroke="#333" stroke-width="1.1"/>
<line x1="1435.7" y1="823.7" x2="1879.4" y2="823.7" stroke="#e8e8e8" stroke-width="1"/>
<line x1="1432.2" y1="823.7" x2="1435.7" y2="823.7" stroke="#333" stroke-width="1.1"/>
<line x1="1435.7" y1="882.7" x2="1879.4" y2="882.7" stroke="#e8e8e8" stroke-width="1"/>
<line x1="1432.2" y1="882.7" x2="1435.7" y2="882.7" stroke="#333" stroke-width="1.1"/>
<line x1="1435.7" y1="941.7" x2="1879.4" y2="941.7" stroke="#e8e8e8" stroke-width="1"/>
<line x1="1432.2" y1="941.7" x2="1435.7" y2="941.7" stroke="#333" stroke-width="1.1"/>
<line x1="1435.7" y1="1000.7" x2="1879.4" y2="1000.7" stroke="#e8e8e8" stroke-width="1"/>
<line x1="1432.2" y1="1000.7" x2="1435.7" y2="1000.7" stroke="#333" stroke-width="1.1"/>
<circle cx="1859.5" cy="587.7" r="7.1" fill="#fe1208"/>
<circle cx="1674.8" cy="646.7" r="7.6" fill="#f7431e"/>
<circle cx="1625.2" cy="705.7" r="6.8" fill="#f85a2c"/>
<circle cx="1582.1" cy="764.7" r="6.2" fill="#fa7444"/>
<circle cx="1551" cy="823.7" r="6" fill="#fb894c"/>
<circle cx="1493.7" cy="882.7" r="4.7" fill="#f9bb78"/>
<circle cx="1462.6" cy="941.7" r="3.3" fill="#feeaa0"/>
<circle cx="1455.4" cy="1000.7" r="2.5" fill="#fef8c4"/>
<rect x="1435.7" y="552.4" width="443.7" height="483.2" fill="none" stroke="#666" stroke-width="1.1"/>
<line x1="1519.3" y1="1035.6" x2="1519.3" y2="1038.6" stroke="#333" stroke-width="1"/>
<text x="1519.3" y="1049.9" font-size="10.8" font-family="'DejaVu Sans', sans-serif" text-anchor="middle" fill="#4d4d4d">2.0</text>
<line x1="1639" y1="1035.6" x2="1639" y2="1038.6" stroke="#333" stroke-width="1"/>
<text x="1639" y="1049.9" font-size="10.8" font-family="'DejaVu Sans', sans-serif" text-anchor="middle" fill="#4d4d4d">2.5</text>
<line x1="1758.7" y1="1035.6" x2="1758.7" y2="1038.6" stroke="#333" stroke-width="1"/>
<text x="1758.7" y="1049.9" font-size="10.8" font-family="'DejaVu Sans', sans-serif" text-anchor="middle" fill="#4d4d4d">3.0</text>
<line x1="1878.4" y1="1035.6" x2="1878.4" y2="1038.6" stroke="#333" stroke-width="1"/>
<text x="1878.4" y="1049.9" font-size="10.8" font-family="'DejaVu Sans', sans-serif" text-anchor="middle" fill="#4d4d4d">3.5</text>
<text x="1657.3" y="1062" font-size="12.4" font-family="'DejaVu Sans', sans-serif" text-anchor="middle" fill="#111">-log10 (p-value)</text>
<text x="1429.2" y="591.2" font-size="9.7" font-family="'DejaVu Sans', sans-serif" text-anchor="end" fill="#4d4d4d">Dicarboxylic.acids</text>
<text x="1429.2" y="650.2" font-size="9.7" font-family="'DejaVu Sans', sans-serif" text-anchor="end" fill="#4d4d4d">Organooxygen.compounds</text>
<text x="1429.2" y="709.2" font-size="9.7" font-family="'DejaVu Sans', sans-serif" text-anchor="end" fill="#4d4d4d">Saturated.Fatty.Acids</text>
<text x="1429.2" y="768.2" font-size="9.7" font-family="'DejaVu Sans', sans-serif" text-anchor="end" fill="#4d4d4d">Unsaturated.Fatty.Acids</text>
<text x="1429.2" y="827.2" font-size="9.7" font-family="'DejaVu Sans', sans-serif" text-anchor="end" fill="#4d4d4d">C30.isoprenoids</text>
<text x="1429.2" y="886.2" font-size="9.7" font-family="'DejaVu Sans', sans-serif" text-anchor="end" fill="#4d4d4d">C24.bile.acids</text>
<text x="1429.2" y="945.2" font-size="9.7" font-family="'DejaVu Sans', sans-serif" text-anchor="end" fill="#4d4d4d">Retinoids</text>
<text x="1429.2" y="1004.2" font-size="9.7" font-family="'DejaVu Sans', sans-serif" text-anchor="end" fill="#4d4d4d">Primary.amides</text>
<text x="1896.7" y="181" font-size="12.8" font-family="'DejaVu Sans', sans-serif" fill="#111">Enrichment Ratio</text>
<circle cx="1905.8" cy="195.4" r="5.2" fill="#000"/>
<text x="1921.6" y="199.7" font-size="11.9" font-family="'DejaVu Sans', sans-serif" fill="#111">8</text>
<circle cx="1905.8" cy="211.4" r="6.5" fill="#000"/>
<text x="1921.6" y="215.7" font-size="11.9" font-family="'DejaVu Sans', sans-serif" fill="#111">12</text>
<circle cx="1905.8" cy="228.7" r="7.5" fill="#000"/>
<text x="1921.6" y="233" font-size="11.9" font-family="'DejaVu Sans', sans-serif" fill="#111">16</text>
<text x="1896.7" y="273.6" font-size="12.8" font-family="'DejaVu Sans', sans-serif" fill="#111">P-value</text>
<rect x="1896.7" y="281.2" width="14.1" height="72.9" fill="url(#ylred)"/>
<line x1="1896.7" y1="287.9" x2="1899.2" y2="287.9" stroke="#fff" stroke-width="0.7"/>
<line x1="1908.3" y1="287.9" x2="1910.8" y2="287.9" stroke="#fff" stroke-width="0.7"/>
<text x="1917.5" y="292.2" font-size="11.9" font-family="'DejaVu Sans', sans-serif" fill="#111">0.04</text>
<line x1="1896.7" y1="304.7" x2="1899.2" y2="304.7" stroke="#fff" stroke-width="0.7"/>
<line x1="1908.3" y1="304.7" x2="1910.8" y2="304.7" stroke="#fff" stroke-width="0.7"/>
<text x="1917.5" y="309" font-size="11.9" font-family="'DejaVu Sans', sans-serif" fill="#111">0.03</text>
<line x1="1896.7" y1="321.4" x2="1899.2" y2="321.4" stroke="#fff" stroke-width="0.7"/>
<line x1="1908.3" y1="321.4" x2="1910.8" y2="321.4" stroke="#fff" stroke-width="0.7"/>
<text x="1917.5" y="325.7" font-size="11.9" font-family="'DejaVu Sans', sans-serif" fill="#111">0.02</text>
<line x1="1896.7" y1="338.1" x2="1899.2" y2="338.1" stroke="#fff" stroke-width="0.7"/>
<line x1="1908.3" y1="338.1" x2="1910.8" y2="338.1" stroke="#fff" stroke-width="0.7"/>
<text x="1917.5" y="342.4" font-size="11.9" font-family="'DejaVu Sans', sans-serif" fill="#111">0.01</text>
<line x1="1896.7" y1="354.7" x2="1899.2" y2="354.7" stroke="#fff" stroke-width="0.7"/>
<line x1="1908.3" y1="354.7" x2="1910.8" y2="354.7" stroke="#fff" stroke-width="0.7"/>
<text x="1917.5" y="359" font-size="11.9" font-family="'DejaVu Sans', sans-serif" fill="#111">0.00</text>
<text x="1898.5" y="715.4" font-size="12.8" font-family="'DejaVu Sans', sans-serif" fill="#111">P-value</text>
<rect x="1898.5" y="722.5" width="13.8" height="72.4" fill="url(#ylred)"/>
<line x1="1898.5" y1="736.2" x2="1901" y2="736.2" stroke="#fff" stroke-width="0.7"/>
<line x1="1909.8" y1="736.2" x2="1912.3" y2="736.2" stroke="#fff" stroke-width="0.7"/>
<text x="1919" y="740.5" font-size="11.9" font-family="'DejaVu Sans', sans-serif" fill="#111">0.015</text>
<line x1="1898.5" y1="755.8" x2="1901" y2="755.8" stroke="#fff" stroke-width="0.7"/>
<line x1="1909.8" y1="755.8" x2="1912.3" y2="755.8" stroke="#fff" stroke-width="0.7"/>
<text x="1919" y="760.1" font-size="11.9" font-family="'DejaVu Sans', sans-serif" fill="#111">0.010</text>
<line x1="1898.5" y1="775.3" x2="1901" y2="775.3" stroke="#fff" stroke-width="0.7"/>
<line x1="1909.8" y1="775.3" x2="1912.3" y2="775.3" stroke="#fff" stroke-width="0.7"/>
<text x="1919" y="779.6" font-size="11.9" font-family="'DejaVu Sans', sans-serif" fill="#111">0.005</text>
<line x1="1898.5" y1="794.9" x2="1901" y2="794.9" stroke="#fff" stroke-width="0.7"/>
<line x1="1909.8" y1="794.9" x2="1912.3" y2="794.9" stroke="#fff" stroke-width="0.7"/>
<text x="1919" y="799.2" font-size="11.9" font-family="'DejaVu Sans', sans-serif" fill="#111">0.000</text>
<text x="1898.5" y="830.1" font-size="12.8" font-family="'DejaVu Sans', sans-serif" fill="#111">Enrichment Ratio</text>
<circle cx="1906.5" cy="844.7" r="4.4" fill="#000"/>
<text x="1922.2" y="849" font-size="11.9" font-family="'DejaVu Sans', sans-serif" fill="#111">6</text>
<circle cx="1906.5" cy="859.5" r="6" fill="#000"/>
<text x="1922.2" y="863.8" font-size="11.9" font-family="'DejaVu Sans', sans-serif" fill="#111">7</text>
<circle cx="1906.5" cy="875.4" r="7" fill="#000"/>
<text x="1922.2" y="879.7" font-size="11.9" font-family="'DejaVu Sans', sans-serif" fill="#111">8</text>
</svg>
</body></html>
